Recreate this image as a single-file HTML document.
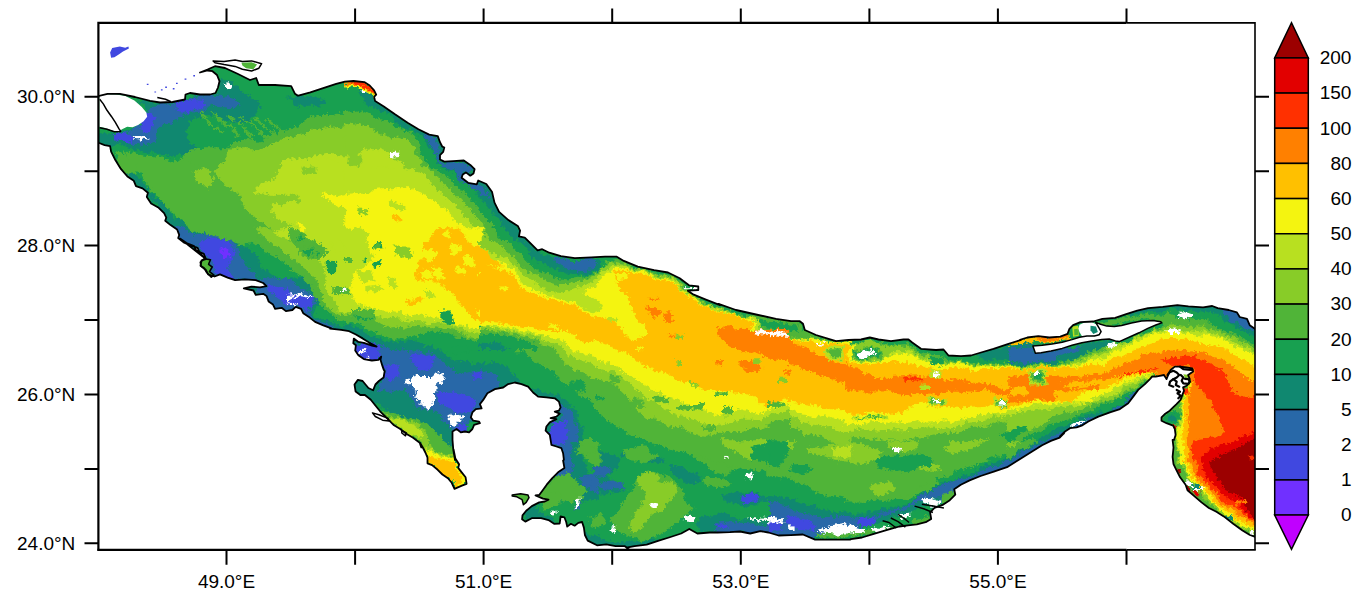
<!DOCTYPE html>
<html><head><meta charset="utf-8"><title>Persian Gulf bathymetry</title>
<style>html,body{margin:0;padding:0;background:#fff}svg{display:block}text{font-family:"Liberation Sans",sans-serif;fill:#000}</style></head><body>
<svg width="1370" height="601" viewBox="0 0 1370 601">
<rect width="1370" height="601" fill="#fff"/>
<defs><clipPath id="fr"><rect x="98.4" y="22.9" width="1156.6" height="526.9"/></clipPath></defs>
<g clip-path="url(#fr)" shape-rendering="geometricPrecision">
<path d="M98.0 96.2 L107.5 93.8 L120.0 93.8 L135.0 97.0 L150.0 100.8 L160.0 102.5 L172.5 102.0 L185.0 99.5 L185.5 94.5 L190.0 93.0 L200.0 94.5 L210.0 94.5 L215.5 93.0 L218.0 87.5 L219.5 81.2 L217.0 75.0 L212.5 71.2 L207.5 70.5 L200.0 72.5 L207.5 69.5 L215.0 66.2 L225.0 68.0 L237.5 73.8 L250.0 80.0 L256.2 78.0 L258.8 85.0 L275.0 85.0 L291.2 86.2 L295.0 93.8 L297.5 95.5 L298.4 95.7 L310.3 92.4 L323.2 88.1 L336.2 83.8 L344.9 81.6 L353.5 81.0 L364.3 82.1 L369.7 85.5 L374.1 90.3 L376.2 94.6 L374.1 96.8 L375.1 101.1 L383.8 106.5 L394.6 114.1 L407.6 122.7 L418.4 129.2 L429.2 134.6 L437.8 136.1 L440.0 142.2 L442.2 146.5 L444.3 147.6 L443.2 151.9 L440.0 155.1 L440.0 159.5 L444.3 161.6 L453.0 161.2 L463.8 160.5 L470.3 164.9 L474.6 169.2 L473.5 173.5 L470.3 175.7 L465.9 172.4 L462.7 174.6 L461.6 177.8 L468.1 182.8 L476.8 184.3 L478.2 180.5 L486.3 184.0 L492.1 192.1 L494.5 202.6 L499.1 211.9 L508.4 220.1 L517.8 225.9 L520.1 230.6 L518.9 236.4 L524.8 237.6 L530.6 243.4 L537.6 250.4 L542.2 249.2 L549.2 252.7 L560.9 256.2 L574.8 258.1 L591.2 257.4 L605.1 256.7 L616.8 256.7 L623.8 260.9 L637.8 266.7 L654.1 270.2 L668.0 272.5 L679.7 278.3 L689.0 285.3 L698.3 286.5 L698.3 290.0 L687.8 290.7 L693.7 294.7 L705.3 299.3 L720.0 305.1 L718.5 303.8 L736.0 310.0 L756.0 314.5 L776.0 318.8 L791.0 321.2 L799.8 321.2 L803.0 323.8 L804.8 330.0 L816.0 335.0 L828.5 338.8 L836.0 341.2 L848.5 340.0 L861.0 339.5 L869.8 337.5 L878.5 339.5 L891.0 341.2 L903.5 339.5 L908.5 339.5 L912.2 342.5 L921.0 348.8 L936.0 350.0 L943.5 349.5 L948.5 355.5 L961.0 356.2 L971.0 355.5 L981.0 352.5 L993.5 348.8 L1008.5 343.8 L1021.0 340.0 L1020.0 339.9 L1027.3 337.5 L1038.3 336.2 L1049.3 337.5 L1060.3 336.7 L1067.6 333.8 L1069.4 328.9 L1073.1 325.2 L1080.4 322.1 L1093.2 321.5 L1102.4 318.8 L1115.2 317.9 L1126.2 314.2 L1137.2 310.6 L1148.1 308.2 L1162.8 306.9 L1177.4 305.1 L1188.4 306.4 L1203.1 307.4 L1212.2 306.0 L1217.7 308.2 L1228.7 310.0 L1236.9 312.4 L1239.7 317.0 L1247.0 318.8 L1249.7 325.2 L1256.2 329.8 L1262.0 330.0 L1262.0 537.0 L1256.5 537.3 L1249.9 535.0 L1242.5 530.4 L1233.2 523.8 L1223.8 516.4 L1216.4 511.7 L1208.9 508.0 L1201.5 502.4 L1194.0 495.9 L1187.5 490.3 L1185.6 484.7 L1180.1 477.3 L1176.3 469.8 L1173.5 464.2 L1172.6 456.8 L1173.5 447.5 L1172.6 440.0 L1174.0 439.9 L1175.6 434.9 L1174.8 429.0 L1173.1 425.7 L1166.5 423.2 L1161.5 420.7 L1161.5 417.4 L1164.8 414.1 L1169.8 410.7 L1173.1 407.4 L1176.5 404.1 L1180.6 399.9 L1182.3 394.9 L1184.0 390.8 L1183.1 387.4 L1186.5 385.8 L1189.0 383.3 L1189.8 379.1 L1188.1 375.0 L1193.1 371.6 L1192.3 368.3 L1186.5 367.5 L1179.8 366.6 L1174.8 366.6 L1170.6 370.0 L1168.2 375.0 L1166.5 379.1 L1164.0 375.0 L1159.8 375.8 L1155.7 376.6 L1152.3 376.3 L1149.9 379.1 L1144.9 384.1 L1138.2 389.9 L1133.2 396.6 L1128.2 403.2 L1119.9 409.1 L1109.9 412.4 L1098.3 416.6 L1088.3 421.5 L1081.6 425.7 L1076.6 427.4 L1070.0 428.2 L1065.0 431.5 L1060.0 436.5 L1064.1 433.2 L1059.7 437.6 L1050.9 440.9 L1042.1 445.3 L1033.3 450.8 L1024.5 456.2 L1015.7 461.7 L1007.0 467.2 L993.8 471.6 L980.6 476.0 L969.6 480.4 L960.8 484.8 L954.2 489.2 L955.3 494.7 L949.8 500.2 L943.3 504.6 L934.5 507.9 L930.1 512.3 L931.2 518.9 L925.7 522.2 L916.9 524.3 L908.1 525.4 L899.3 526.5 L891.6 528.7 L883.9 530.9 L873.0 534.2 L862.0 537.5 L851.0 539.1 L850.0 539.6 L833.4 539.6 L815.1 539.6 L802.9 534.5 L790.7 535.1 L778.6 535.5 L768.4 532.5 L760.3 531.1 L750.2 533.5 L740.0 531.5 L729.9 532.1 L717.7 532.5 L709.6 532.5 L697.4 533.5 L689.3 529.0 L681.2 533.5 L669.0 537.5 L658.8 540.6 L646.7 544.7 L634.5 546.1 L626.4 547.7 L628.6 549.0 L624.9 546.2 L615.6 546.2 L606.3 544.3 L597.0 545.3 L587.7 540.6 L584.9 535.0 L583.9 527.6 L582.1 522.0 L578.3 522.9 L574.6 525.7 L570.9 523.8 L567.2 526.6 L566.2 522.0 L564.4 517.3 L560.6 516.4 L559.7 523.5 L554.1 523.8 L548.5 520.1 L541.1 518.2 L531.8 518.2 L525.3 521.6 L522.1 519.2 L522.5 515.4 L526.2 510.8 L531.8 506.1 L539.2 502.4 L544.8 501.5 L548.5 499.6 L543.0 498.7 L535.5 495.5 L539.2 495.0 L542.0 491.2 L546.7 484.7 L552.3 478.2 L558.8 471.7 L564.4 467.9 L563.1 460.5 L563.9 459.8 L563.1 453.2 L561.4 448.2 L556.4 446.5 L551.4 444.8 L550.6 439.9 L549.8 434.9 L545.6 430.7 L546.4 426.5 L549.8 422.4 L556.4 419.1 L550.6 418.2 L556.4 416.6 L559.8 413.6 L554.8 411.6 L558.9 410.7 L560.6 407.4 L558.9 401.6 L554.8 398.3 L546.4 397.4 L538.1 396.6 L533.1 392.5 L528.1 386.6 L521.5 384.1 L514.8 382.5 L508.2 384.1 L503.2 387.5 L494.9 389.1 L487.4 393.3 L483.2 399.9 L479.9 404.1 L481.6 408.3 L475.8 409.1 L472.4 412.4 L470.8 417.4 L473.3 420.7 L479.1 421.6 L479.9 423.2 L474.1 424.9 L472.4 429.0 L469.1 432.4 L464.9 431.5 L460.8 432.4 L456.6 429.0 L452.5 431.5 L452.5 439.9 L453.3 449.8 L455.0 459.8 L453.5 449.3 L455.4 458.6 L459.1 464.2 L458.2 467.9 L461.9 472.6 L465.6 477.3 L466.6 483.8 L461.9 485.6 L454.5 488.8 L451.7 482.8 L447.9 478.2 L442.4 474.5 L437.7 469.8 L432.1 465.1 L427.5 463.3 L427.5 457.7 L425.6 453.0 L422.8 447.5 L420.0 442.8 L421.3 447.4 L419.7 442.7 L412.7 437.6 L405.7 433.4 L399.9 428.8 L394.0 425.3 L389.4 420.6 L385.9 417.1 L380.1 411.3 L375.4 405.5 L370.8 399.7 L364.9 395.0 L360.3 395.0 L355.6 391.5 L354.5 384.5 L357.9 379.9 L362.6 381.0 L368.4 388.0 L373.1 390.3 L375.4 384.5 L378.9 381.0 L383.6 377.5 L384.7 371.0 L383.8 369.9 L382.4 365.9 L380.5 359.8 L381.2 356.6 L378.4 359.8 L371.9 360.5 L363.8 359.1 L358.4 355.2 L355.2 350.5 L355.9 345.2 L353.3 343.3 L353.8 338.6 L358.4 341.9 L363.8 342.8 L371.9 345.6 L376.6 346.6 L369.1 342.6 L362.6 338.4 L355.9 334.5 L349.1 331.2 L341.2 329.8 L330.0 328.6 L331.4 328.4 L322.7 325.1 L315.1 321.9 L309.7 317.6 L303.2 313.2 L301.1 308.9 L295.7 306.8 L292.4 310.0 L285.9 311.1 L281.6 307.8 L275.1 308.9 L273.0 304.6 L268.6 301.4 L266.5 295.9 L263.2 293.8 L255.7 294.9 L253.5 290.5 L243.8 288.4 L251.4 286.6 L260.0 287.3 L266.5 286.2 L263.2 283.0 L255.7 280.2 L244.9 279.3 L235.1 280.2 L227.6 277.6 L220.0 274.3 L214.6 276.5 L208.1 274.3 L205.9 270.0 L200.5 265.7 L201.6 260.3 L205.9 259.2 L203.8 253.8 L196.2 250.5 L194.1 246.2 L186.5 243.0 L180.0 238.6 L204.1 257.6 L199.8 253.2 L197.6 247.8 L191.1 245.7 L183.6 242.4 L178.2 238.1 L179.2 234.9 L177.1 229.5 L170.6 225.1 L165.2 220.8 L166.3 217.6 L164.1 213.2 L158.7 207.8 L151.1 203.5 L146.8 197.0 L147.9 192.7 L142.5 188.4 L136.0 186.2 L133.8 180.8 L127.4 176.5 L120.9 168.9 L115.5 160.3 L111.1 151.6 L110.1 146.2 L104.6 145.1 L99.2 143.0 L96.0 140.8 L90.0 140.0 L90.0 96.0Z" fill="#18a050"/>
<clipPath id="sea"><path d="M98.0 96.2 L107.5 93.8 L120.0 93.8 L135.0 97.0 L150.0 100.8 L160.0 102.5 L172.5 102.0 L185.0 99.5 L185.5 94.5 L190.0 93.0 L200.0 94.5 L210.0 94.5 L215.5 93.0 L218.0 87.5 L219.5 81.2 L217.0 75.0 L212.5 71.2 L207.5 70.5 L200.0 72.5 L207.5 69.5 L215.0 66.2 L225.0 68.0 L237.5 73.8 L250.0 80.0 L256.2 78.0 L258.8 85.0 L275.0 85.0 L291.2 86.2 L295.0 93.8 L297.5 95.5 L298.4 95.7 L310.3 92.4 L323.2 88.1 L336.2 83.8 L344.9 81.6 L353.5 81.0 L364.3 82.1 L369.7 85.5 L374.1 90.3 L376.2 94.6 L374.1 96.8 L375.1 101.1 L383.8 106.5 L394.6 114.1 L407.6 122.7 L418.4 129.2 L429.2 134.6 L437.8 136.1 L440.0 142.2 L442.2 146.5 L444.3 147.6 L443.2 151.9 L440.0 155.1 L440.0 159.5 L444.3 161.6 L453.0 161.2 L463.8 160.5 L470.3 164.9 L474.6 169.2 L473.5 173.5 L470.3 175.7 L465.9 172.4 L462.7 174.6 L461.6 177.8 L468.1 182.8 L476.8 184.3 L478.2 180.5 L486.3 184.0 L492.1 192.1 L494.5 202.6 L499.1 211.9 L508.4 220.1 L517.8 225.9 L520.1 230.6 L518.9 236.4 L524.8 237.6 L530.6 243.4 L537.6 250.4 L542.2 249.2 L549.2 252.7 L560.9 256.2 L574.8 258.1 L591.2 257.4 L605.1 256.7 L616.8 256.7 L623.8 260.9 L637.8 266.7 L654.1 270.2 L668.0 272.5 L679.7 278.3 L689.0 285.3 L698.3 286.5 L698.3 290.0 L687.8 290.7 L693.7 294.7 L705.3 299.3 L720.0 305.1 L718.5 303.8 L736.0 310.0 L756.0 314.5 L776.0 318.8 L791.0 321.2 L799.8 321.2 L803.0 323.8 L804.8 330.0 L816.0 335.0 L828.5 338.8 L836.0 341.2 L848.5 340.0 L861.0 339.5 L869.8 337.5 L878.5 339.5 L891.0 341.2 L903.5 339.5 L908.5 339.5 L912.2 342.5 L921.0 348.8 L936.0 350.0 L943.5 349.5 L948.5 355.5 L961.0 356.2 L971.0 355.5 L981.0 352.5 L993.5 348.8 L1008.5 343.8 L1021.0 340.0 L1020.0 339.9 L1027.3 337.5 L1038.3 336.2 L1049.3 337.5 L1060.3 336.7 L1067.6 333.8 L1069.4 328.9 L1073.1 325.2 L1080.4 322.1 L1093.2 321.5 L1102.4 318.8 L1115.2 317.9 L1126.2 314.2 L1137.2 310.6 L1148.1 308.2 L1162.8 306.9 L1177.4 305.1 L1188.4 306.4 L1203.1 307.4 L1212.2 306.0 L1217.7 308.2 L1228.7 310.0 L1236.9 312.4 L1239.7 317.0 L1247.0 318.8 L1249.7 325.2 L1256.2 329.8 L1262.0 330.0 L1262.0 537.0 L1256.5 537.3 L1249.9 535.0 L1242.5 530.4 L1233.2 523.8 L1223.8 516.4 L1216.4 511.7 L1208.9 508.0 L1201.5 502.4 L1194.0 495.9 L1187.5 490.3 L1185.6 484.7 L1180.1 477.3 L1176.3 469.8 L1173.5 464.2 L1172.6 456.8 L1173.5 447.5 L1172.6 440.0 L1174.0 439.9 L1175.6 434.9 L1174.8 429.0 L1173.1 425.7 L1166.5 423.2 L1161.5 420.7 L1161.5 417.4 L1164.8 414.1 L1169.8 410.7 L1173.1 407.4 L1176.5 404.1 L1180.6 399.9 L1182.3 394.9 L1184.0 390.8 L1183.1 387.4 L1186.5 385.8 L1189.0 383.3 L1189.8 379.1 L1188.1 375.0 L1193.1 371.6 L1192.3 368.3 L1186.5 367.5 L1179.8 366.6 L1174.8 366.6 L1170.6 370.0 L1168.2 375.0 L1166.5 379.1 L1164.0 375.0 L1159.8 375.8 L1155.7 376.6 L1152.3 376.3 L1149.9 379.1 L1144.9 384.1 L1138.2 389.9 L1133.2 396.6 L1128.2 403.2 L1119.9 409.1 L1109.9 412.4 L1098.3 416.6 L1088.3 421.5 L1081.6 425.7 L1076.6 427.4 L1070.0 428.2 L1065.0 431.5 L1060.0 436.5 L1064.1 433.2 L1059.7 437.6 L1050.9 440.9 L1042.1 445.3 L1033.3 450.8 L1024.5 456.2 L1015.7 461.7 L1007.0 467.2 L993.8 471.6 L980.6 476.0 L969.6 480.4 L960.8 484.8 L954.2 489.2 L955.3 494.7 L949.8 500.2 L943.3 504.6 L934.5 507.9 L930.1 512.3 L931.2 518.9 L925.7 522.2 L916.9 524.3 L908.1 525.4 L899.3 526.5 L891.6 528.7 L883.9 530.9 L873.0 534.2 L862.0 537.5 L851.0 539.1 L850.0 539.6 L833.4 539.6 L815.1 539.6 L802.9 534.5 L790.7 535.1 L778.6 535.5 L768.4 532.5 L760.3 531.1 L750.2 533.5 L740.0 531.5 L729.9 532.1 L717.7 532.5 L709.6 532.5 L697.4 533.5 L689.3 529.0 L681.2 533.5 L669.0 537.5 L658.8 540.6 L646.7 544.7 L634.5 546.1 L626.4 547.7 L628.6 549.0 L624.9 546.2 L615.6 546.2 L606.3 544.3 L597.0 545.3 L587.7 540.6 L584.9 535.0 L583.9 527.6 L582.1 522.0 L578.3 522.9 L574.6 525.7 L570.9 523.8 L567.2 526.6 L566.2 522.0 L564.4 517.3 L560.6 516.4 L559.7 523.5 L554.1 523.8 L548.5 520.1 L541.1 518.2 L531.8 518.2 L525.3 521.6 L522.1 519.2 L522.5 515.4 L526.2 510.8 L531.8 506.1 L539.2 502.4 L544.8 501.5 L548.5 499.6 L543.0 498.7 L535.5 495.5 L539.2 495.0 L542.0 491.2 L546.7 484.7 L552.3 478.2 L558.8 471.7 L564.4 467.9 L563.1 460.5 L563.9 459.8 L563.1 453.2 L561.4 448.2 L556.4 446.5 L551.4 444.8 L550.6 439.9 L549.8 434.9 L545.6 430.7 L546.4 426.5 L549.8 422.4 L556.4 419.1 L550.6 418.2 L556.4 416.6 L559.8 413.6 L554.8 411.6 L558.9 410.7 L560.6 407.4 L558.9 401.6 L554.8 398.3 L546.4 397.4 L538.1 396.6 L533.1 392.5 L528.1 386.6 L521.5 384.1 L514.8 382.5 L508.2 384.1 L503.2 387.5 L494.9 389.1 L487.4 393.3 L483.2 399.9 L479.9 404.1 L481.6 408.3 L475.8 409.1 L472.4 412.4 L470.8 417.4 L473.3 420.7 L479.1 421.6 L479.9 423.2 L474.1 424.9 L472.4 429.0 L469.1 432.4 L464.9 431.5 L460.8 432.4 L456.6 429.0 L452.5 431.5 L452.5 439.9 L453.3 449.8 L455.0 459.8 L453.5 449.3 L455.4 458.6 L459.1 464.2 L458.2 467.9 L461.9 472.6 L465.6 477.3 L466.6 483.8 L461.9 485.6 L454.5 488.8 L451.7 482.8 L447.9 478.2 L442.4 474.5 L437.7 469.8 L432.1 465.1 L427.5 463.3 L427.5 457.7 L425.6 453.0 L422.8 447.5 L420.0 442.8 L421.3 447.4 L419.7 442.7 L412.7 437.6 L405.7 433.4 L399.9 428.8 L394.0 425.3 L389.4 420.6 L385.9 417.1 L380.1 411.3 L375.4 405.5 L370.8 399.7 L364.9 395.0 L360.3 395.0 L355.6 391.5 L354.5 384.5 L357.9 379.9 L362.6 381.0 L368.4 388.0 L373.1 390.3 L375.4 384.5 L378.9 381.0 L383.6 377.5 L384.7 371.0 L383.8 369.9 L382.4 365.9 L380.5 359.8 L381.2 356.6 L378.4 359.8 L371.9 360.5 L363.8 359.1 L358.4 355.2 L355.2 350.5 L355.9 345.2 L353.3 343.3 L353.8 338.6 L358.4 341.9 L363.8 342.8 L371.9 345.6 L376.6 346.6 L369.1 342.6 L362.6 338.4 L355.9 334.5 L349.1 331.2 L341.2 329.8 L330.0 328.6 L331.4 328.4 L322.7 325.1 L315.1 321.9 L309.7 317.6 L303.2 313.2 L301.1 308.9 L295.7 306.8 L292.4 310.0 L285.9 311.1 L281.6 307.8 L275.1 308.9 L273.0 304.6 L268.6 301.4 L266.5 295.9 L263.2 293.8 L255.7 294.9 L253.5 290.5 L243.8 288.4 L251.4 286.6 L260.0 287.3 L266.5 286.2 L263.2 283.0 L255.7 280.2 L244.9 279.3 L235.1 280.2 L227.6 277.6 L220.0 274.3 L214.6 276.5 L208.1 274.3 L205.9 270.0 L200.5 265.7 L201.6 260.3 L205.9 259.2 L203.8 253.8 L196.2 250.5 L194.1 246.2 L186.5 243.0 L180.0 238.6 L204.1 257.6 L199.8 253.2 L197.6 247.8 L191.1 245.7 L183.6 242.4 L178.2 238.1 L179.2 234.9 L177.1 229.5 L170.6 225.1 L165.2 220.8 L166.3 217.6 L164.1 213.2 L158.7 207.8 L151.1 203.5 L146.8 197.0 L147.9 192.7 L142.5 188.4 L136.0 186.2 L133.8 180.8 L127.4 176.5 L120.9 168.9 L115.5 160.3 L111.1 151.6 L110.1 146.2 L104.6 145.1 L99.2 143.0 L96.0 140.8 L90.0 140.0 L90.0 96.0Z"/></clipPath>
<filter id="rough" x="0" y="0" width="1370" height="601" filterUnits="userSpaceOnUse" color-interpolation-filters="sRGB"><feTurbulence type="fractalNoise" baseFrequency="0.06" numOctaves="2" seed="7" result="n1"/><feDisplacementMap in="SourceGraphic" in2="n1" scale="9" xChannelSelector="R" yChannelSelector="G" result="d1"/><feTurbulence type="fractalNoise" baseFrequency="0.3" numOctaves="2" seed="3" result="n2"/><feDisplacementMap in="d1" in2="n2" scale="7" xChannelSelector="G" yChannelSelector="R"/></filter>
<g clip-path="url(#sea)"><g filter="url(#rough)">
<g fill="#108870"><path d="M99.7 132.3 L121.6 130.5 L138.1 125.9 L148.2 114.9 L145.4 105.8 L136.3 99.3 L156.4 103.0 L172.9 103.0 L183.8 99.3 L198.5 95.7 L216.8 94.8 L220.5 82.0 L224.1 78.3 L235.1 83.8 L240.6 91.1 L253.4 96.6 L260.7 105.8 L257.1 114.9 L246.1 120.4 L235.1 124.1 L224.1 120.4 L213.1 114.9 L204.0 114.9 L194.8 120.4 L187.5 129.5 L191.2 140.5 L198.5 147.8 L194.8 155.2 L180.2 157.0 L165.5 156.1 L150.9 153.3 L136.3 149.7 L123.5 146.0 L110.6 144.2 L99.7 143.3Z"/><path d="M286.3 96.6 L301.0 95.7 L315.6 97.5 L324.8 101.2 L321.1 105.8 L306.5 105.8 L293.7 103.9Z"/><path d="M357.0 89.3 L366.1 92.9 L373.5 101.2 L393.6 114.0 L415.5 126.3 L430.2 133.2 L439.3 140.5 L441.2 146.0 L440.3 154.3 L439.3 159.7 L444.8 161.6 L455.8 161.0 L465.0 161.6 L474.1 166.1 L474.1 171.6 L448.5 171.6 L437.5 162.5 L432.0 151.5 L426.5 138.7 L413.7 131.4 L391.8 118.6 L371.6 105.8 L358.8 94.8Z"/><path d="M114.3 168.2 L127.1 168.2 L138.1 179.2 L149.1 188.3 L154.6 197.5 L165.5 206.6 L172.9 215.8 L182.0 223.1 L191.2 228.6 L205.8 232.2 L224.1 234.1 L238.8 239.5 L247.9 246.9 L255.2 256.0 L260.7 265.2 L271.7 272.5 L279.0 281.6 L205.8 281.6 L187.5 252.4 L169.2 224.9 L141.8 188.3Z"/><path d="M444.8 168.2 L448.5 170.0 L474.1 188.3 L486.9 206.6 L503.4 224.9 L516.2 243.2 L529.0 256.0 L547.3 265.2 L565.6 268.8 L583.9 270.7 L598.6 272.5 L598.6 254.2 L529.0 239.5 L492.4 188.3 L463.1 168.2Z"/><path d="M234.9 278.2 L326.4 278.2 L330.1 287.3 L322.8 296.5 L315.4 307.5 L313.6 316.6 L326.4 322.1 L341.1 326.7 L355.7 330.3 L368.5 336.7 L379.5 344.1 L388.6 349.5 L399.6 347.7 L414.3 345.9 L432.6 344.1 L432.6 391.6 L363.0 391.6 L344.7 334.9 L289.8 316.6 L253.2 298.3Z"/><path d="M344.2 323.9 L364.3 333.1 L382.6 340.4 L400.9 344.1 L419.2 342.2 L437.5 349.5 L448.5 356.9 L463.1 362.4 L477.8 364.2 L492.4 360.5 L503.4 366.0 L510.7 375.2 L521.7 382.5 L529.0 391.6 L344.2 391.6Z"/><path d="M977.8 354.1 L992.4 348.6 L1007.1 345.9 L1018.0 341.3 L1029.0 337.1 L1032.7 346.8 L1034.5 353.2 L1054.6 351.0 L1083.9 345.9 L1098.6 343.1 L1098.6 356.9 L1083.9 358.7 L1065.6 361.4 L1047.3 362.4 L1029.0 362.4 L1010.7 361.4 L992.4 360.5 L981.4 358.7Z"/><path d="M1008.2 344.0 L1021.0 343.1 L1030.1 344.9 L1033.8 352.2 L1046.6 351.9 L1064.9 347.7 L1086.9 342.2 L1108.8 339.8 L1116.1 342.2 L1112.5 344.9 L1097.8 348.6 L1083.2 353.1 L1064.9 360.5 L1046.6 365.0 L1028.3 365.4 L1008.2 366.9Z"/><path d="M1211.3 304.6 L1229.6 308.3 L1240.6 315.6 L1250.7 323.9 L1256.2 329.3 L1256.2 338.5 L1247.9 333.0 L1236.9 326.6 L1226.0 319.3 L1211.3 312.9 L1193.0 310.1 L1174.7 309.2 L1156.4 310.5 L1138.1 312.9 L1127.1 316.5 L1127.1 312.0 L1138.1 308.3 L1156.4 306.1 L1174.7 303.7Z"/><path d="M344.2 388.2 L496.1 388.2 L485.1 401.0 L481.4 410.1 L474.1 421.1 L455.8 430.3 L453.1 444.9 L454.0 454.1 L448.5 450.4 L441.2 441.2 L430.2 430.3 L415.5 422.9 L400.9 417.5 L382.6 408.3 L368.0 397.3Z"/><path d="M530.8 388.2 L565.6 388.2 L576.6 401.0 L580.3 417.5 L578.4 435.8 L582.1 454.1 L587.6 468.7 L591.2 485.2 L598.6 492.5 L598.6 501.6 L529.0 501.6 L547.3 472.4 L547.3 426.6Z"/><path d="M594.2 450.4 L607.0 450.4 L614.3 457.7 L612.5 468.7 L607.0 476.0 L614.3 485.2 L623.5 488.8 L621.6 494.3 L607.0 492.5 L594.2 492.5Z"/><path d="M621.6 452.2 L636.3 450.4 L650.9 453.1 L663.7 457.7 L665.5 462.3 L650.9 461.4 L636.3 457.7 L623.5 455.9Z"/><path d="M669.2 466.9 L683.8 466.9 L698.5 472.4 L702.1 479.7 L694.8 483.3 L683.8 481.5 L672.9 474.2Z"/><path d="M815.6 481.5 L826.6 477.8 L841.2 477.8 L848.6 481.5 L848.6 488.8 L833.9 490.7 L819.3 488.8Z"/><path d="M724.1 496.1 L738.8 492.5 L760.7 494.3 L779.0 496.1 L790.0 501.6 L724.1 501.6Z"/><path d="M1098.6 412.0 L1083.9 417.5 L1065.6 424.8 L1047.3 433.9 L1029.0 444.0 L1010.7 455.0 L992.4 463.2 L974.1 469.6 L959.5 475.1 L948.5 482.4 L937.5 489.7 L926.5 501.6 L974.1 501.6 L1098.6 426.6Z"/><path d="M1008.2 460.5 L1010.0 459.5 L1064.9 427.5 L1119.8 405.6 L1134.5 391.8 L1141.8 388.2 L1141.8 408.3 L1008.2 481.5Z"/><path d="M550.2 440.2 L573.1 440.2 L571.2 456.6 L573.1 471.3 L565.8 478.6 L556.6 485.9 L545.6 496.9 L531.0 509.7 L521.8 517.0 L520.0 496.9 L556.6 469.5Z"/><path d="M587.7 453.0 L600.5 451.2 L615.2 453.0 L622.5 460.3 L618.8 467.6 L607.8 469.5 L596.9 465.8 L589.5 460.3Z"/><path d="M670.1 469.5 L684.7 467.6 L695.7 473.1 L695.7 478.6 L681.1 480.4 L671.9 476.8Z"/><path d="M736.0 493.2 L750.6 491.4 L761.6 496.9 L757.9 504.2 L743.3 505.1 L736.0 500.6Z"/><path d="M703.0 515.2 L721.3 513.4 L739.6 518.9 L757.9 520.7 L772.6 522.5 L772.6 533.5 L703.0 533.5 L695.7 524.4Z"/><path d="M584.1 529.8 L596.9 537.2 L615.2 541.7 L633.5 542.7 L651.8 539.0 L659.1 541.7 L648.1 546.3 L627.1 550.0 L605.1 545.4 L586.8 541.7Z"/><path d="M523.7 511.5 L534.6 506.1 L547.5 515.2 L556.6 522.5 L542.0 520.7 L527.3 522.5Z"/><path d="M768.2 495.1 L784.6 496.9 L799.3 502.4 L817.6 507.9 L835.9 511.5 L854.2 513.4 L872.5 513.4 L890.8 507.9 L909.1 500.6 L927.4 491.4 L945.7 482.3 L964.0 474.9 L982.3 468.5 L1000.6 462.1 L1022.6 453.0 L1022.6 478.6 L768.2 555.5Z"/><path d="M817.6 478.6 L832.2 476.8 L848.7 479.5 L850.5 485.9 L835.9 489.6 L821.2 487.8Z"/><path d="M768.2 445.7 L781.0 447.5 L788.3 456.6 L781.0 464.0 L768.2 465.8Z"/><path d="M1008.2 460.3 L1021.0 453.0 L1032.0 446.6 L1041.1 442.0 L1048.4 440.2 L1052.1 445.7 L1008.2 471.3Z"/></g>
<g fill="#2868a8"><path d="M123.5 132.3 L138.1 126.8 L149.1 114.9 L150.9 107.6 L161.9 104.8 L174.7 103.9 L187.5 98.4 L205.8 96.6 L222.3 95.7 L235.1 99.3 L238.8 103.9 L227.8 107.6 L213.1 106.7 L202.1 111.2 L187.5 114.9 L174.7 118.6 L165.5 125.9 L158.2 133.2 L156.4 142.4 L147.2 146.0 L132.6 145.1 L121.6 140.5 L114.3 135.0Z"/><path d="M424.7 133.2 L433.8 136.9 L437.5 146.0 L437.5 158.8 L444.8 162.5 L463.1 162.5 L472.3 168.0 L472.3 171.6 L455.8 171.6 L443.0 166.1 L435.7 158.8 L432.0 146.0Z"/><path d="M174.7 228.6 L183.8 228.6 L194.8 234.1 L209.5 235.9 L224.1 237.7 L235.1 243.2 L240.6 250.5 L242.4 259.7 L247.9 268.8 L257.1 276.1 L260.7 281.6 L213.1 281.6 L205.8 261.5 L198.5 248.7 L183.8 241.4 L176.5 235.9Z"/><path d="M454.0 168.2 L463.1 168.2 L465.0 179.2 L477.8 184.6 L486.9 188.3 L490.6 197.5 L483.3 193.8 L470.5 186.5 L459.5 179.2Z"/><path d="M536.3 254.2 L547.3 256.0 L565.6 259.7 L583.9 259.7 L598.6 258.8 L598.6 268.8 L583.9 267.9 L565.6 266.1 L547.3 262.4 L538.2 257.8Z"/><path d="M260.5 278.2 L289.8 278.2 L297.1 285.5 L308.1 291.0 L317.3 296.5 L315.4 303.8 L308.1 311.1 L311.8 318.4 L322.8 323.9 L335.6 328.0 L335.6 333.1 L322.8 328.5 L308.1 321.2 L299.0 312.9 L289.8 312.9 L278.8 311.1 L267.8 303.8 L264.2 294.6 L256.9 292.8 L256.9 285.5Z"/><path d="M379.5 360.5 L386.8 353.2 L396.0 349.5 L406.9 351.4 L417.9 349.5 L432.6 353.2 L432.6 391.6 L377.7 391.6 L383.1 378.8 L384.1 371.5Z"/><path d="M378.9 345.9 L393.6 349.5 L408.2 351.4 L426.5 353.2 L441.2 360.5 L448.5 367.8 L455.8 375.2 L470.5 371.5 L485.1 369.7 L496.1 375.2 L499.7 384.3 L492.4 391.6 L378.9 391.6 L382.6 371.5 L378.9 356.9Z"/><path d="M1010.7 348.6 L1021.7 345.9 L1030.8 346.8 L1036.3 353.6 L1047.3 353.2 L1029.0 356.9 L1016.2 354.1Z"/><path d="M1008.2 348.6 L1021.0 346.7 L1032.0 348.6 L1034.7 353.1 L1046.6 352.2 L1064.9 348.2 L1079.5 344.9 L1079.5 348.6 L1064.9 354.1 L1046.6 361.4 L1028.3 362.3 L1008.2 363.2Z"/><path d="M1220.5 307.4 L1236.9 311.6 L1247.9 317.5 L1255.2 328.4 L1256.2 333.9 L1246.1 328.4 L1235.1 321.1 L1222.3 313.8Z"/><path d="M400.9 388.2 L494.2 388.2 L483.3 401.0 L479.6 410.1 L472.3 421.1 L455.8 429.3 L452.1 435.8 L448.5 426.6 L441.2 417.5 L433.8 410.1 L419.2 406.5 L408.2 397.3Z"/><path d="M547.3 395.5 L562.0 399.2 L571.1 412.0 L571.1 426.6 L569.3 441.2 L572.9 455.9 L574.8 468.7 L569.3 476.0 L554.6 477.8 L547.3 444.9 L547.3 408.3Z"/><path d="M580.3 476.0 L591.2 474.2 L598.6 477.8 L598.6 492.5 L589.4 490.7 L582.1 485.2Z"/><path d="M594.2 466.9 L605.2 466.9 L608.8 472.4 L603.3 476.9 L594.2 476.0Z"/><path d="M599.7 482.4 L614.3 481.5 L623.5 485.2 L623.5 490.7 L610.6 489.7 L599.7 487.0Z"/><path d="M1098.6 416.5 L1083.9 421.5 L1067.4 428.8 L1051.0 437.2 L1036.3 444.5 L1018.0 456.3 L1003.4 462.8 L988.8 468.3 L974.1 473.8 L963.1 478.4 L954.0 484.8 L944.8 492.1 L935.7 501.6 L974.1 501.6 L1098.6 426.6Z"/><path d="M1008.2 462.8 L1028.3 452.2 L1064.9 429.9 L1119.8 407.4 L1136.3 390.0 L1141.8 408.3 L1008.2 481.5Z"/><path d="M597.8 467.6 L607.8 466.7 L609.7 474.0 L600.5 475.9Z"/><path d="M581.3 476.8 L589.5 475.9 L591.4 484.1 L583.1 485.0Z"/><path d="M607.8 482.3 L622.5 481.3 L624.3 488.7 L611.5 490.5Z"/><path d="M739.6 495.1 L756.1 494.2 L757.9 501.5 L743.3 502.4Z"/><path d="M714.0 523.4 L730.5 522.5 L748.8 525.3 L772.6 526.2 L772.6 533.5 L714.0 533.5Z"/><path d="M562.1 445.7 L567.6 453.0 L566.7 464.0 L568.5 471.3 L563.9 473.1 L563.0 462.1 L563.9 453.0Z"/><path d="M574.9 496.9 L580.4 496.9 L581.3 509.7 L575.8 509.7Z"/><path d="M768.2 502.4 L784.6 506.1 L802.9 513.4 L824.9 517.0 L846.9 517.0 L868.8 518.0 L887.1 512.5 L905.4 504.2 L923.7 495.1 L942.0 485.9 L960.3 477.7 L978.6 471.3 L989.6 469.5 L989.6 478.6 L768.2 555.5Z"/></g>
<g fill="#4048e0"><path d="M176.5 101.2 L191.2 98.4 L204.0 100.3 L202.1 107.6 L191.2 111.2 L178.4 110.3Z"/><path d="M144.0 114.9 L150.9 113.1 L154.6 118.6 L150.9 129.5 L143.6 133.2 L139.9 127.7Z"/><path d="M116.1 134.1 L130.8 133.2 L132.6 140.5 L125.3 143.3 L116.1 140.5Z"/><path d="M198.5 243.2 L209.5 239.5 L222.3 240.5 L231.4 245.0 L235.1 252.4 L233.3 259.7 L227.8 265.2 L231.4 272.5 L235.1 281.6 L220.5 281.6 L216.8 272.5 L213.1 263.3 L207.6 254.2 L200.3 248.7Z"/><path d="M267.8 285.5 L278.8 287.3 L289.8 292.8 L304.5 298.3 L315.4 298.3 L311.8 305.6 L304.5 311.1 L297.1 305.6 L288.0 303.8 L278.8 298.3 L269.7 292.8Z"/><path d="M412.4 353.2 L425.2 352.3 L432.6 356.9 L432.6 367.8 L423.4 369.7 L414.3 366.0 L410.6 358.7Z"/><path d="M353.9 342.2 L370.3 344.1 L379.5 346.8 L381.3 356.9 L371.3 361.4 L363.0 359.6 L357.5 353.2Z"/><path d="M413.7 355.0 L424.7 353.2 L432.0 358.7 L430.2 366.0 L421.0 369.7 L413.7 364.2Z"/><path d="M385.3 366.0 L397.2 364.2 L400.9 375.2 L391.8 382.5 L385.3 377.0Z"/><path d="M472.3 371.5 L481.4 371.5 L483.3 378.8 L474.1 380.7Z"/><path d="M357.0 344.1 L373.5 344.1 L378.9 353.2 L377.1 360.5 L364.3 360.5 L357.0 353.2Z"/><path d="M437.5 393.7 L448.5 391.8 L463.1 393.7 L474.1 401.0 L472.3 410.1 L463.1 412.0 L452.1 410.1 L441.2 404.6Z"/><path d="M454.0 426.6 L463.1 422.9 L466.8 428.4 L461.3 433.9 L455.8 433.0Z"/><path d="M554.6 422.9 L565.6 421.1 L567.4 433.9 L563.8 444.9 L552.8 444.9 L547.3 432.1Z"/><path d="M742.4 494.3 L755.2 493.4 L760.7 498.0 L757.1 501.6 L742.4 501.6Z"/><path d="M743.3 496.0 L754.3 495.4 L755.2 500.2 L745.1 500.9Z"/><path d="M715.8 525.3 L728.6 525.3 L728.6 528.9 L715.8 528.9Z"/><path d="M788.3 515.2 L806.6 518.9 L817.6 526.2 L813.9 531.7 L799.3 528.0 L788.3 522.5Z"/><path d="M857.8 517.0 L872.5 518.0 L874.3 524.4 L861.5 525.3Z"/><path d="M768.2 522.5 L781.0 523.4 L782.8 529.8 L768.2 531.7Z"/></g>
<g fill="#7030ff"><path d="M218.6 250.5 L227.8 250.5 L230.5 256.0 L224.1 258.8 L218.6 256.0Z"/></g>
<g fill="#50b438"><path d="M114.3 151.5 L132.6 158.8 L150.9 162.5 L169.2 164.3 L191.2 162.5 L205.8 158.8 L224.1 147.8 L235.1 140.5 L247.9 136.9 L260.7 140.5 L271.7 133.2 L286.3 129.5 L297.3 124.1 L308.3 118.6 L321.1 114.9 L333.9 114.9 L348.6 111.2 L348.6 173.5 L119.8 173.5Z"/><path d="M198.5 112.2 L200.7 111.6 L225.9 133.2 L224.1 134.7Z"/><path d="M212.2 113.6 L214.4 113.1 L239.7 134.3 L237.8 135.8Z"/><path d="M225.9 115.1 L228.1 114.5 L253.4 135.4 L251.6 136.9Z"/><path d="M239.7 116.6 L241.9 116.0 L267.1 136.5 L265.3 138.0Z"/><path d="M253.4 118.0 L255.6 117.5 L280.8 137.6 L279.0 139.1Z"/><path d="M267.1 119.5 L269.3 118.9 L294.6 138.7 L292.7 140.2Z"/><path d="M344.2 111.2 L357.0 109.4 L368.0 113.1 L378.9 118.6 L389.9 122.2 L400.9 127.7 L411.9 133.2 L419.2 140.5 L422.9 149.7 L424.7 158.8 L428.4 171.6 L344.2 171.6Z"/><path d="M191.8 148.2 L182.6 161.0 L173.5 172.0 L173.5 186.6 L186.3 195.8 L200.9 204.9 L215.5 214.1 L228.4 223.2 L244.8 232.4 L263.1 241.5 L277.8 252.5 L285.1 261.6 L398.6 261.6 L398.6 148.2Z"/><path d="M344.2 168.2 L437.5 168.2 L437.5 170.0 L461.3 188.3 L477.8 206.6 L492.4 224.9 L503.4 243.2 L518.0 261.5 L529.0 269.7 L540.0 276.1 L547.3 281.6 L344.2 281.6Z"/><path d="M594.2 280.4 L601.5 278.6 L606.1 273.1 L608.8 265.8 L614.3 261.2 L623.5 263.9 L632.6 268.0 L643.6 271.6 L656.4 273.6 L668.3 275.5 L675.6 279.5 L682.0 286.8 L685.7 292.3 L693.0 296.5 L704.0 300.9 L715.0 305.5 L725.9 309.7 L740.6 313.3 L755.2 316.4 L769.9 319.7 L779.0 324.3 L779.0 331.6 L594.2 331.6Z"/><path d="M344.7 278.2 L341.1 287.3 L331.9 296.5 L326.4 303.8 L328.2 312.9 L337.4 318.4 L348.4 322.1 L359.4 325.8 L370.3 329.4 L381.3 334.9 L392.3 340.4 L403.3 340.4 L417.9 334.9 L432.6 329.4 L432.6 278.2Z"/><path d="M344.2 278.2 L540.0 278.2 L558.3 281.8 L576.6 285.5 L598.6 291.0 L598.6 386.1 L583.9 382.5 L569.3 375.2 L554.6 367.8 L540.0 362.4 L529.0 356.9 L521.7 349.5 L510.7 343.1 L492.4 340.4 L477.8 338.6 L463.1 336.7 L448.5 333.1 L433.8 327.6 L419.2 324.8 L400.9 325.8 L382.6 323.0 L364.3 321.2 L344.2 316.6Z"/><path d="M594.2 278.2 L682.0 278.2 L685.7 285.5 L693.0 294.6 L705.8 301.0 L724.1 309.3 L742.4 313.9 L760.7 315.7 L779.0 318.8 L797.3 322.5 L802.8 329.4 L815.6 334.9 L833.9 341.3 L848.6 341.3 L848.6 391.6 L623.5 391.6 L621.6 386.1 L614.3 378.8 L605.2 371.5 L594.2 366.0Z"/><path d="M844.2 343.1 L857.0 342.2 L869.8 340.4 L882.6 343.1 L895.4 343.5 L906.4 343.1 L911.9 346.8 L921.0 353.2 L932.0 354.1 L941.2 354.1 L948.5 359.6 L959.5 360.5 L972.3 362.4 L985.1 363.3 L1003.4 364.6 L1021.7 365.1 L1040.0 365.1 L1058.3 364.2 L1076.6 362.7 L1098.6 361.4 L1098.6 391.6 L844.2 391.6Z"/><path d="M1008.2 367.6 L1028.3 366.0 L1046.6 366.3 L1064.9 362.8 L1083.2 356.8 L1092.4 353.1 L1103.3 346.7 L1114.3 343.1 L1123.5 343.1 L1138.1 334.8 L1152.8 329.3 L1161.9 324.8 L1160.1 320.2 L1149.1 319.3 L1138.1 320.2 L1127.1 322.9 L1116.1 326.2 L1107.0 327.0 L1099.7 324.8 L1097.8 322.0 L1108.8 320.2 L1119.8 319.3 L1130.8 316.5 L1141.8 314.7 L1156.4 313.4 L1167.4 313.8 L1178.4 317.5 L1193.0 319.3 L1204.0 320.2 L1218.6 325.7 L1233.3 333.0 L1246.1 339.4 L1255.2 344.0 L1262.6 345.8 L1262.6 401.6 L1174.7 401.6 L1154.6 373.3 L1152.8 381.5 L1141.8 385.5 L1130.8 390.7 L1121.6 395.2 L1114.3 399.8 L1112.5 401.6 L1008.2 401.6Z"/><path d="M373.5 406.5 L391.8 413.8 L410.1 417.5 L424.7 422.9 L437.5 432.1 L448.5 441.2 L454.0 452.2 L455.8 463.2 L465.0 476.0 L466.8 482.4 L463.1 486.1 L455.8 488.8 L450.3 478.8 L437.5 470.5 L428.4 461.4 L424.7 450.4 L419.2 443.1 L406.4 434.8 L393.6 426.6 L382.6 417.5Z"/><path d="M571.1 388.2 L598.6 388.2 L598.6 408.3 L587.6 412.0 L580.3 404.6 L574.8 395.5Z"/><path d="M578.4 441.2 L591.2 437.6 L598.6 439.4 L598.6 466.9 L589.4 463.2 L582.1 454.1Z"/><path d="M551.0 481.5 L565.6 474.2 L576.6 481.5 L583.9 492.5 L580.3 501.6 L529.0 501.6 L543.7 488.8Z"/><path d="M594.2 412.0 L607.0 422.9 L621.6 432.1 L636.3 437.6 L650.9 443.1 L665.5 446.7 L680.2 452.2 L694.8 455.9 L705.8 463.2 L713.1 472.4 L724.1 476.0 L735.1 470.5 L746.1 463.2 L753.4 452.2 L760.7 444.9 L771.7 443.1 L786.3 444.9 L797.3 450.4 L808.3 459.5 L819.3 463.2 L833.9 466.9 L848.6 470.5 L848.6 388.2 L594.2 388.2Z"/><path d="M638.1 476.0 L650.9 472.4 L665.5 477.8 L678.4 485.2 L674.7 494.3 L661.9 499.8 L647.2 496.1 L638.1 487.0Z"/><path d="M844.2 388.2 L1098.6 388.2 L1098.6 408.3 L1091.2 411.0 L1076.6 415.6 L1062.0 421.1 L1047.3 426.6 L1032.7 432.1 L1018.0 437.6 L1003.4 443.1 L988.8 446.7 L974.1 450.4 L959.5 453.1 L948.5 452.2 L937.5 450.4 L926.5 454.1 L915.5 457.7 L900.9 459.5 L886.3 463.2 L871.6 466.9 L857.0 466.9 L844.2 463.2Z"/><path d="M844.2 476.0 L860.6 477.8 L878.9 476.0 L893.6 470.5 L908.2 468.7 L922.9 472.4 L933.8 477.8 L937.5 485.2 L926.5 492.5 L911.9 496.1 L893.6 499.8 L878.9 501.6 L844.2 501.6Z"/><path d="M1008.2 445.8 L1010.0 444.9 L1064.9 417.5 L1119.8 398.2 L1129.0 388.2 L1008.2 388.2Z"/><path d="M1175.6 388.2 L1177.5 399.2 L1176.5 406.5 L1169.2 412.9 L1165.6 419.3 L1172.9 421.1 L1174.7 429.3 L1174.2 444.9 L1175.3 463.2 L1180.2 477.8 L1188.4 490.7 L1196.7 499.8 L1198.5 501.6 L1262.6 501.6 L1262.6 388.2Z"/><path d="M637.1 478.6 L651.8 473.1 L666.4 478.6 L681.1 487.8 L684.7 500.6 L695.7 507.9 L684.7 515.2 L677.4 522.5 L666.4 529.8 L655.4 537.2 L640.8 540.8 L626.1 537.2 L615.2 529.8 L611.5 518.9 L618.8 507.9 L626.1 496.9 L633.5 487.8Z"/><path d="M684.7 440.2 L772.6 440.2 L772.6 469.5 L757.9 473.1 L739.6 467.6 L721.3 464.0 L703.0 456.6 L688.4 449.3Z"/><path d="M574.9 445.7 L589.5 443.8 L596.9 453.0 L585.9 456.6 L576.7 453.0Z"/><path d="M622.5 449.3 L644.5 447.5 L659.1 454.8 L648.1 462.1 L629.8 460.3Z"/><path d="M703.0 478.6 L721.3 476.8 L732.3 484.1 L717.7 489.6 L704.8 485.9Z"/><path d="M571.2 485.9 L582.2 484.1 L585.9 495.1 L574.9 496.9Z"/><path d="M538.3 496.9 L549.3 489.6 L560.3 493.2 L556.6 504.2 L545.6 507.9Z"/><path d="M589.5 515.2 L600.5 513.4 L606.0 520.7 L598.7 528.0 L589.5 524.4Z"/><path d="M768.2 474.9 L784.6 478.6 L799.3 484.1 L810.3 489.6 L824.9 493.2 L839.5 496.9 L854.2 500.6 L868.8 502.4 L883.5 500.6 L898.1 496.9 L912.8 491.4 L927.4 484.1 L942.0 476.8 L956.7 471.3 L971.3 465.8 L986.0 460.3 L1000.6 454.8 L1015.2 449.3 L1022.6 445.7 L1022.6 440.2 L768.2 440.2Z"/><path d="M1008.2 440.2 L1037.5 440.2 L1028.3 447.5 L1017.3 453.0 L1008.2 458.5Z"/><path d="M241.0 228.2 L252.0 241.0 L266.6 252.0 L284.9 262.9 L299.5 273.9 L310.5 284.9 L316.0 295.9 L321.5 306.9 L332.5 314.2 L347.1 319.7 L365.4 323.3 L383.7 325.2 L402.0 327.0 L420.3 329.7 L438.6 332.5 L456.9 334.3 L482.6 338.0 L482.6 228.2Z"/><path d="M122.0 150.0 L130.4 160.6 L143.8 179.8 L159.0 199.0 L174.5 216.0 L191.7 230.3 L215.0 238.0 L240.0 243.0 L262.0 242.0 L250.0 215.0 L225.0 185.0 L200.0 165.0 L170.0 160.0 L140.0 155.0Z"/></g>
<g fill="#88cc28"><path d="M224.1 171.6 L231.4 162.5 L238.8 155.2 L249.7 149.7 L264.4 146.0 L279.0 140.5 L293.7 136.9 L306.5 133.2 L319.3 129.5 L330.3 127.7 L348.6 125.9 L348.6 173.5Z"/><path d="M344.2 125.9 L357.0 124.1 L369.8 127.7 L380.8 133.2 L391.8 136.9 L402.7 138.7 L411.9 146.0 L417.4 155.2 L419.2 162.5 L422.9 171.6 L344.2 171.6Z"/><path d="M228.4 148.2 L226.5 157.3 L219.2 164.6 L215.5 172.0 L224.7 186.6 L237.5 193.9 L244.8 204.9 L250.3 214.1 L261.3 223.2 L274.1 230.5 L285.1 241.5 L292.4 252.5 L299.7 261.6 L398.6 261.6 L398.6 148.2Z"/><path d="M344.2 168.2 L428.4 168.2 L428.4 170.0 L450.3 188.3 L466.8 206.6 L481.4 224.9 L492.4 243.2 L505.2 261.5 L521.7 281.6 L344.2 281.6Z"/><path d="M352.0 278.2 L344.7 289.2 L337.4 298.3 L333.7 305.6 L341.1 311.1 L352.0 314.8 L363.0 316.6 L374.0 318.4 L381.3 323.9 L392.3 327.6 L403.3 325.8 L417.9 322.1 L432.6 318.4 L432.6 278.2Z"/><path d="M344.2 278.2 L536.3 278.2 L547.3 283.7 L562.0 287.3 L576.6 291.0 L591.2 296.5 L598.6 300.1 L598.6 367.8 L583.9 364.2 L569.3 358.7 L554.6 353.2 L540.0 347.7 L529.0 343.1 L510.7 339.5 L492.4 337.7 L474.1 335.8 L459.5 333.1 L444.8 327.6 L433.8 322.1 L419.2 319.3 L400.9 320.3 L382.6 318.4 L364.3 316.6 L344.2 313.9Z"/><path d="M594.2 278.2 L681.1 278.2 L683.8 287.3 L691.2 297.4 L704.0 302.9 L724.1 311.1 L742.4 315.1 L753.4 319.3 L751.6 332.2 L760.7 335.8 L779.0 337.1 L797.3 337.7 L812.0 337.1 L824.8 340.8 L848.6 342.2 L848.6 391.6 L639.9 391.6 L636.3 386.1 L628.9 378.8 L618.0 373.3 L607.0 366.0 L594.2 360.5Z"/><path d="M844.2 344.1 L857.0 343.1 L869.8 341.7 L882.6 344.4 L895.4 345.2 L906.4 345.9 L911.9 350.5 L921.0 355.4 L932.0 356.9 L941.2 357.8 L948.5 361.4 L959.5 362.0 L972.3 363.8 L985.1 364.6 L1003.4 365.7 L1021.7 366.2 L1040.0 366.2 L1058.3 365.3 L1076.6 363.8 L1098.6 362.5 L1098.6 391.6 L844.2 391.6Z"/><path d="M1008.2 368.3 L1028.3 366.9 L1046.6 367.2 L1064.9 364.1 L1083.2 359.5 L1094.2 355.5 L1105.2 348.9 L1116.1 343.4 L1127.1 340.3 L1138.1 335.8 L1152.8 330.6 L1163.7 326.6 L1174.7 324.8 L1189.4 326.6 L1204.0 328.1 L1218.6 331.2 L1233.3 337.6 L1246.1 343.4 L1255.2 347.7 L1262.6 349.5 L1262.6 401.6 L1174.7 401.6 L1154.6 373.3 L1152.8 379.7 L1141.8 383.3 L1129.0 388.8 L1118.0 393.4 L1109.7 398.0 L1105.2 401.6 L1008.2 401.6Z"/><path d="M386.3 415.6 L400.9 418.4 L415.5 422.0 L424.7 429.3 L428.4 435.8 L427.4 443.1 L433.8 448.6 L444.8 453.1 L454.0 457.7 L455.8 463.2 L465.0 476.0 L466.8 482.4 L463.1 486.1 L455.8 488.8 L450.3 478.8 L437.5 470.5 L428.4 461.4 L424.7 450.4 L420.1 442.2 L406.4 433.9 L395.4 425.7Z"/><path d="M594.2 388.2 L594.2 397.3 L607.0 404.6 L621.6 412.0 L632.6 419.3 L647.2 424.8 L661.9 426.6 L676.5 430.3 L691.2 435.8 L705.8 437.6 L720.5 439.4 L735.1 437.6 L749.7 435.8 L757.1 426.6 L771.7 422.9 L786.3 424.8 L797.3 430.3 L812.0 433.9 L826.6 439.4 L837.6 444.9 L848.6 448.6 L848.6 388.2Z"/><path d="M641.8 479.7 L650.9 478.8 L652.7 487.0 L643.6 487.9Z"/><path d="M844.2 388.2 L1098.6 388.2 L1098.6 399.2 L1083.9 402.8 L1069.3 406.5 L1054.6 410.1 L1040.0 413.8 L1025.4 417.5 L1010.7 421.1 L996.1 423.9 L985.1 426.6 L974.1 429.3 L963.1 430.3 L948.5 433.0 L933.8 434.8 L919.2 436.7 L904.6 439.4 L889.9 439.4 L875.3 437.6 L860.6 438.5 L844.2 437.6Z"/><path d="M844.2 443.1 L857.0 444.9 L871.6 446.7 L882.6 452.2 L878.9 459.5 L864.3 463.2 L853.3 461.4 L844.2 459.5Z"/><path d="M948.5 441.2 L963.1 439.4 L974.1 443.1 L966.8 448.6 L952.1 448.6Z"/><path d="M915.5 463.2 L930.2 461.4 L941.2 466.9 L933.8 472.4 L919.2 470.5Z"/><path d="M1008.2 436.7 L1010.0 435.8 L1037.5 424.8 L1064.9 413.8 L1092.4 404.6 L1119.8 396.4 L1127.1 388.2 L1008.2 388.2Z"/><path d="M1177.5 388.2 L1178.7 399.2 L1180.2 408.3 L1176.5 417.5 L1175.6 426.6 L1175.3 444.9 L1176.5 463.2 L1182.0 477.8 L1190.3 489.7 L1198.5 499.8 L1262.6 501.6 L1262.6 388.2Z"/><path d="M637.1 476.8 L651.8 473.1 L659.1 480.4 L670.1 484.1 L677.4 487.8 L673.7 496.9 L666.4 502.4 L659.1 511.5 L651.8 515.2 L644.5 522.5 L637.1 529.8 L629.8 531.7 L631.6 520.7 L637.1 509.7 L644.5 500.6 L648.1 491.4 L640.8 485.9Z"/><path d="M721.3 440.2 L772.6 440.2 L772.6 456.6 L757.9 460.3 L739.6 453.0 L725.0 447.5Z"/><path d="M806.6 449.3 L824.9 445.7 L843.2 443.8 L856.0 449.3 L854.2 458.5 L839.5 460.3 L824.9 456.6 L810.3 454.8Z"/><path d="M887.1 440.2 L920.1 440.2 L916.4 449.3 L901.8 451.2 L889.0 447.5Z"/><path d="M872.5 484.1 L890.8 482.3 L894.5 491.4 L879.8 495.1 L872.5 491.4Z"/><path d="M953.0 440.2 L989.6 440.2 L971.3 449.3 L953.0 453.0 L942.0 449.3Z"/><path d="M1008.2 440.2 L1021.0 440.2 L1008.2 447.5Z"/><path d="M1177.5 440.2 L1178.0 453.0 L1181.1 467.6 L1190.3 483.2 L1201.3 496.9 L1210.4 505.1 L1220.5 514.3 L1230.5 521.1 L1236.9 528.0 L1244.3 533.0 L1262.6 535.3 L1262.6 440.2Z"/><path d="M255.6 228.2 L266.6 239.2 L281.2 250.1 L295.9 261.1 L308.7 272.1 L317.8 283.1 L321.5 294.1 L325.2 305.0 L336.1 311.4 L350.8 316.0 L369.1 319.7 L387.4 321.5 L405.7 323.3 L424.0 326.1 L442.3 328.8 L460.6 330.7 L482.6 334.3 L482.6 228.2Z"/></g>
<g fill="#b8e020"><path d="M279.0 171.6 L282.7 164.3 L293.7 160.7 L306.5 158.8 L319.3 157.0 L332.1 155.2 L348.6 155.2 L348.6 173.5Z"/><path d="M358.8 171.6 L359.7 155.2 L366.1 148.8 L378.9 147.8 L388.1 151.5 L393.6 158.8 L400.9 162.5 L406.4 171.6Z"/><path d="M279.6 159.2 L292.4 157.3 L310.7 161.0 L329.0 159.2 L347.3 164.6 L365.6 168.3 L383.9 166.5 L398.6 168.3 L398.6 261.6 L329.0 261.6 L321.7 252.5 L310.7 245.2 L307.1 236.0 L299.7 228.7 L288.8 225.0 L277.8 219.5 L270.5 210.4 L274.1 201.2 L266.8 193.9 L255.8 192.1 L259.5 184.8 L274.1 179.3 L281.4 170.1Z"/><path d="M344.2 168.2 L415.5 168.2 L415.5 170.0 L437.5 188.3 L455.8 206.6 L472.3 224.9 L481.4 243.2 L496.1 261.5 L510.7 281.6 L344.2 281.6Z"/><path d="M594.2 281.3 L601.5 279.5 L606.6 274.0 L609.7 266.7 L615.2 262.5 L623.5 265.4 L632.6 269.0 L643.6 272.7 L656.4 274.7 L667.7 276.6 L675.1 280.8 L681.1 288.1 L684.8 293.6 L692.1 297.6 L703.1 302.0 L714.0 306.6 L725.0 310.6 L739.7 314.3 L753.4 317.5 L760.7 322.5 L760.7 331.6 L594.2 331.6Z"/><path d="M355.7 278.2 L350.2 287.3 L344.7 296.5 L344.7 303.8 L353.9 307.5 L364.8 309.3 L375.8 311.1 L385.0 314.8 L396.0 316.6 L406.9 314.8 L417.9 312.9 L432.6 311.1 L432.6 278.2Z"/><path d="M344.2 278.2 L529.0 278.2 L540.0 284.6 L551.0 289.2 L562.0 292.8 L572.9 296.5 L583.9 302.0 L598.6 309.3 L598.6 356.9 L580.3 353.2 L565.6 349.5 L551.0 345.9 L536.3 342.2 L521.7 338.6 L507.1 336.7 L492.4 334.9 L477.8 333.1 L463.1 330.3 L448.5 325.8 L437.5 322.1 L430.2 316.6 L419.2 314.8 L404.6 316.6 L389.9 315.7 L375.3 314.8 L360.6 312.9 L344.2 311.1Z"/><path d="M594.2 278.2 L680.2 278.2 L682.0 287.3 L687.5 295.6 L704.0 303.4 L724.1 311.7 L742.4 315.9 L751.6 319.3 L754.3 325.8 L751.2 331.6 L757.1 335.6 L779.0 338.2 L797.3 338.6 L812.0 337.8 L824.8 341.3 L848.6 342.8 L848.6 391.6 L661.9 391.6 L650.9 384.3 L639.9 378.8 L628.9 373.3 L618.0 367.8 L607.0 360.5 L594.2 355.0Z"/><path d="M844.2 345.0 L853.3 344.4 L857.0 353.2 L853.3 360.5 L864.3 362.0 L878.9 361.4 L886.3 357.8 L893.6 352.3 L906.4 350.5 L915.5 356.0 L924.7 359.1 L937.5 363.3 L948.5 362.7 L963.1 363.3 L977.8 364.6 L992.4 365.7 L1007.1 366.4 L1021.7 367.1 L1036.3 367.1 L1051.0 366.2 L1065.6 365.3 L1080.3 364.4 L1098.6 363.5 L1098.6 391.6 L844.2 391.6Z"/><path d="M1008.2 369.1 L1028.3 367.6 L1046.6 368.1 L1064.9 365.4 L1083.2 361.7 L1096.0 357.7 L1107.0 351.3 L1118.0 345.8 L1129.0 341.2 L1139.9 336.7 L1152.8 332.5 L1163.7 329.9 L1174.7 329.3 L1189.4 331.2 L1204.0 332.5 L1218.6 335.4 L1233.3 341.6 L1246.1 347.1 L1255.2 351.3 L1262.6 353.1 L1262.6 401.6 L1174.7 401.6 L1154.6 373.3 L1152.8 377.8 L1141.8 381.1 L1127.1 386.1 L1114.3 391.6 L1105.2 396.1 L1097.8 401.6 L1008.2 401.6Z"/><path d="M389.9 418.4 L402.7 421.1 L413.7 424.8 L421.0 430.3 L424.7 435.8 L422.0 439.0 L410.1 433.9 L399.1 427.5 L391.8 422.9Z"/><path d="M425.1 448.2 L433.8 450.0 L444.8 455.0 L454.0 459.2 L455.8 463.2 L465.0 476.0 L466.8 482.4 L463.1 486.1 L455.8 488.8 L450.3 478.8 L437.5 470.5 L428.4 461.4 L425.6 452.2Z"/><path d="M621.6 388.2 L632.6 395.5 L650.9 399.2 L669.2 402.8 L683.8 408.3 L698.5 413.8 L709.5 421.1 L724.1 424.8 L738.8 422.9 L753.4 424.8 L760.7 421.1 L775.4 417.5 L790.0 415.6 L801.0 421.1 L815.6 424.8 L830.3 426.6 L841.2 430.3 L848.6 432.1 L848.6 388.2Z"/><path d="M844.2 388.2 L1098.6 388.2 L1098.6 393.7 L1080.3 398.2 L1065.6 401.9 L1051.0 405.6 L1036.3 409.2 L1021.7 412.9 L1007.1 415.6 L992.4 418.4 L977.8 421.1 L963.1 423.9 L948.5 426.6 L933.8 427.5 L919.2 429.3 L904.6 431.2 L889.9 431.2 L875.3 430.3 L860.6 431.2 L844.2 432.1Z"/><path d="M1008.2 414.7 L1010.0 413.8 L1037.5 411.0 L1064.9 407.4 L1092.4 400.1 L1119.8 392.7 L1123.5 388.2 L1008.2 388.2Z"/><path d="M830.4 447.5 L850.5 446.6 L852.4 456.6 L835.9 457.6Z"/><path d="M272.1 228.2 L281.2 237.3 L292.2 241.0 L303.2 248.3 L314.2 257.5 L325.2 266.6 L328.8 277.6 L325.2 288.6 L332.5 299.5 L339.8 308.7 L354.5 313.3 L372.8 316.0 L391.1 317.8 L409.4 319.7 L427.7 322.4 L446.0 325.2 L464.3 327.0 L482.6 329.7 L482.6 228.2Z"/></g>
<g fill="#f4f410"><path d="M344.2 80.5 L357.0 80.5 L366.1 82.0 L372.5 87.5 L376.2 94.8 L373.5 99.3 L368.0 94.8 L360.6 90.2 L351.5 87.5 L344.2 87.5Z"/><path d="M319.9 192.1 L338.2 193.9 L356.5 192.1 L374.8 193.9 L398.6 192.1 L398.6 241.5 L383.9 232.4 L374.8 223.2 L356.5 219.5 L347.3 210.4 L329.0 203.1Z"/><path d="M373.5 190.1 L391.8 188.3 L410.1 188.3 L422.9 193.8 L433.8 201.1 L444.8 210.3 L455.8 219.4 L465.0 230.4 L474.1 239.5 L483.3 250.5 L490.6 261.5 L499.7 272.5 L507.1 281.6 L378.9 281.6 L386.3 268.8 L382.6 257.8 L371.6 250.5 L364.3 243.2 L368.0 232.2 L357.0 228.6 L344.2 226.7 L344.2 199.3 L360.6 195.6Z"/><path d="M594.2 282.2 L601.5 280.4 L607.0 274.9 L610.6 267.6 L616.1 263.9 L623.5 266.7 L632.6 270.3 L643.6 274.0 L656.4 275.8 L667.4 277.7 L674.7 282.2 L680.2 289.5 L683.8 295.0 L691.2 298.7 L702.1 303.3 L713.1 307.8 L724.1 311.5 L738.8 315.2 L751.6 318.8 L757.1 324.3 L753.4 331.6 L594.2 331.6Z"/><path d="M363.0 278.2 L355.7 287.3 L353.9 296.5 L363.0 302.0 L374.0 305.6 L385.0 307.5 L396.0 307.5 L406.9 309.3 L417.9 307.5 L432.6 305.6 L432.6 278.2Z"/><path d="M368.0 278.2 L521.7 278.2 L532.7 285.5 L543.7 291.0 L554.6 294.6 L565.6 298.3 L576.6 303.8 L587.6 311.1 L598.6 314.8 L598.6 350.5 L583.9 346.8 L572.9 345.0 L558.3 342.2 L543.7 338.6 L529.0 334.9 L514.4 333.1 L499.7 331.2 L485.1 329.4 L470.5 327.6 L455.8 325.8 L444.8 318.4 L433.8 312.9 L422.9 307.5 L408.2 311.1 L393.6 309.3 L378.9 307.5 L368.0 303.8 L362.5 294.6Z"/><path d="M594.2 278.2 L679.3 278.2 L681.1 287.3 L684.8 293.7 L693.0 299.2 L704.0 303.8 L715.0 308.4 L725.9 312.0 L736.9 314.8 L747.9 317.5 L755.2 321.2 L753.4 325.8 L750.6 331.2 L755.2 334.9 L768.0 337.1 L790.0 338.9 L804.6 338.6 L812.0 338.2 L822.9 340.4 L833.9 342.6 L848.6 343.1 L848.6 391.6 L683.8 391.6 L672.9 386.1 L658.2 380.7 L643.6 375.2 L632.6 369.7 L618.0 364.2 L607.0 356.9 L594.2 351.4Z"/><path d="M844.2 345.9 L852.4 345.5 L855.2 353.2 L851.5 360.5 L864.3 362.7 L878.9 362.0 L886.3 359.1 L893.6 354.7 L906.4 353.6 L915.5 357.2 L924.7 360.5 L937.5 364.2 L948.5 363.6 L963.1 364.4 L977.8 365.5 L992.4 366.4 L1007.1 367.3 L1021.7 368.0 L1036.3 368.0 L1051.0 367.1 L1065.6 366.2 L1080.3 365.3 L1098.6 364.4 L1098.6 391.6 L844.2 391.6Z"/><path d="M1008.2 369.6 L1028.3 368.3 L1046.6 369.1 L1064.9 366.9 L1083.2 364.1 L1097.8 360.5 L1108.8 354.1 L1119.8 348.6 L1130.8 343.1 L1141.8 338.5 L1152.8 334.8 L1163.7 332.5 L1174.7 333.0 L1189.4 334.8 L1204.0 335.8 L1218.6 338.5 L1233.3 344.9 L1244.3 350.4 L1255.2 355.0 L1262.6 356.8 L1262.6 401.6 L1174.7 401.6 L1154.6 373.3 L1152.8 376.0 L1141.8 378.8 L1127.1 383.3 L1112.5 388.8 L1101.5 394.3 L1092.4 398.0 L1086.9 401.6 L1008.2 401.6Z"/><path d="M425.6 450.8 L433.8 451.7 L444.8 456.8 L454.0 460.5 L455.8 463.2 L465.0 476.0 L466.8 482.4 L463.1 486.1 L455.8 488.8 L450.3 478.8 L437.5 470.5 L428.4 461.4 L426.2 454.1Z"/><path d="M669.2 388.2 L676.5 397.3 L691.2 401.0 L705.8 404.6 L713.1 413.8 L724.1 415.6 L738.8 410.1 L749.7 417.5 L760.7 413.8 L775.4 410.1 L790.0 408.3 L801.0 415.6 L815.6 417.5 L826.6 413.8 L837.6 419.3 L848.6 422.9 L848.6 388.2Z"/><path d="M844.2 388.2 L1098.6 388.2 L1098.6 390.0 L1080.3 394.6 L1065.6 398.2 L1051.0 401.9 L1036.3 405.6 L1021.7 409.2 L1007.1 411.0 L992.4 413.8 L977.8 415.6 L963.1 418.4 L948.5 420.2 L933.8 421.1 L919.2 422.0 L904.6 423.9 L889.9 424.8 L875.3 423.9 L860.6 424.8 L844.2 426.6Z"/><path d="M1008.2 408.3 L1037.5 405.6 L1064.9 402.8 L1092.4 395.5 L1108.8 388.2 L1008.2 388.2Z"/><path d="M1178.4 388.2 L1179.8 399.2 L1183.0 408.3 L1179.3 417.5 L1177.5 426.6 L1177.5 444.9 L1179.3 463.2 L1184.8 477.8 L1192.1 488.8 L1200.3 499.8 L1262.6 501.6 L1262.6 388.2Z"/><path d="M1180.2 440.2 L1181.1 453.0 L1185.7 467.6 L1194.8 481.3 L1204.9 494.2 L1214.1 502.4 L1223.2 512.5 L1233.3 518.9 L1238.8 526.2 L1246.1 531.7 L1262.6 533.5 L1262.6 440.2Z"/><path d="M383.7 228.2 L381.9 241.0 L376.4 252.0 L369.1 262.9 L358.1 272.1 L350.8 283.1 L349.0 292.2 L358.1 303.2 L376.4 310.5 L394.7 312.4 L413.0 314.2 L431.3 317.8 L449.6 320.6 L467.9 322.4 L482.6 325.2 L482.6 228.2Z"/></g>
<g fill="#ffc000"><path d="M435.7 232.2 L448.5 228.6 L459.5 234.1 L470.5 241.4 L474.1 248.7 L485.1 256.0 L492.4 265.2 L499.7 272.5 L510.7 276.1 L518.0 281.6 L415.5 281.6 L417.4 268.8 L422.9 263.3 L426.5 256.0 L422.9 248.7 L430.2 243.2 L437.5 239.5Z"/><path d="M391.8 216.7 L400.9 216.7 L401.8 221.2 L392.7 221.6Z"/><path d="M612.5 274.9 L618.0 269.4 L625.3 270.3 L632.6 274.0 L643.6 277.7 L650.9 282.2 L660.1 284.1 L669.2 287.7 L676.5 293.2 L683.8 298.7 L694.8 303.3 L705.8 307.8 L716.8 312.4 L727.8 315.2 L742.4 318.8 L751.6 322.5 L751.6 331.6 L643.6 331.6 L638.1 322.5 L632.6 315.2 L627.1 307.8 L623.5 300.5 L625.3 293.2 L619.8 287.7 L614.3 282.2Z"/><path d="M405.1 299.2 L416.1 298.3 L419.8 302.0 L412.4 303.8 L406.0 302.3Z"/><path d="M437.5 278.2 L448.5 291.0 L459.5 300.1 L466.8 311.1 L474.1 318.4 L485.1 323.9 L499.7 325.8 L514.4 327.6 L529.0 329.4 L543.7 333.1 L558.3 336.7 L572.9 338.6 L583.9 340.4 L598.6 342.2 L598.6 316.6 L583.9 314.8 L572.9 307.5 L562.0 302.0 L547.3 298.3 L536.3 294.6 L529.0 289.2 L521.7 283.7 L518.0 278.2Z"/><path d="M406.4 299.2 L419.2 299.2 L419.2 303.8 L406.4 303.8Z"/><path d="M619.8 278.2 L625.3 289.2 L623.5 300.1 L627.1 311.1 L639.9 316.6 L645.4 325.8 L641.8 334.9 L632.6 338.6 L618.0 333.1 L607.0 329.4 L594.2 327.6 L594.2 344.1 L607.0 347.7 L618.0 353.2 L632.6 358.7 L647.2 364.2 L661.9 369.7 L676.5 375.2 L691.2 380.7 L705.8 386.1 L716.8 391.6 L848.6 391.6 L848.6 345.0 L833.9 344.1 L822.9 342.2 L812.0 340.4 L804.6 339.7 L797.3 339.7 L790.0 340.0 L779.0 338.9 L768.0 338.2 L757.1 336.7 L750.6 333.1 L752.5 327.6 L754.9 322.5 L748.8 319.0 L738.8 316.2 L727.8 313.5 L716.8 309.8 L705.8 305.3 L694.8 300.7 L685.7 295.6 L680.2 289.2 L676.5 281.8 L674.7 278.2Z"/><path d="M844.2 360.5 L857.0 363.3 L868.0 364.2 L882.6 363.3 L893.6 362.4 L906.4 363.3 L919.2 366.0 L932.0 367.8 L944.8 367.8 L959.5 368.8 L974.1 368.8 L988.8 369.3 L1003.4 368.8 L1018.0 368.8 L1032.7 368.2 L1047.3 367.8 L1062.0 367.5 L1076.6 366.4 L1098.6 365.7 L1098.6 391.6 L844.2 391.6Z"/><path d="M1010.7 344.1 L1021.7 339.5 L1030.8 336.7 L1047.3 336.4 L1062.0 335.8 L1069.3 334.0 L1070.2 340.4 L1058.3 341.3 L1043.7 341.3 L1032.7 341.3 L1021.7 344.1Z"/><path d="M1008.2 370.5 L1028.3 369.6 L1046.6 370.5 L1064.9 368.7 L1083.2 366.9 L1101.5 365.0 L1112.5 359.5 L1123.5 354.1 L1134.5 350.4 L1145.4 344.9 L1156.4 341.2 L1167.4 339.0 L1182.0 339.0 L1196.7 341.2 L1211.3 344.9 L1224.1 350.4 L1238.8 357.7 L1253.4 366.9 L1262.6 370.5 L1262.6 401.6 L1174.7 401.6 L1154.6 373.3 L1152.8 374.2 L1141.8 376.0 L1127.1 379.7 L1112.5 384.3 L1101.5 388.8 L1090.5 392.5 L1079.5 396.1 L1070.4 401.6 L1008.2 401.6Z"/><path d="M1008.2 343.1 L1019.2 340.3 L1030.1 336.7 L1041.1 338.5 L1052.1 337.6 L1063.1 335.8 L1068.6 333.0 L1069.5 338.5 L1063.1 340.3 L1052.1 342.2 L1041.1 342.7 L1030.1 340.3 L1019.2 343.4 L1008.2 344.9Z"/><path d="M427.4 456.8 L437.5 457.7 L446.7 459.5 L454.0 463.2 L457.6 470.5 L460.4 477.8 L459.5 485.2 L455.8 487.9 L451.2 479.7 L439.3 471.4 L430.2 463.2Z"/><path d="M724.1 388.2 L735.1 391.8 L747.9 395.5 L760.7 401.0 L764.4 408.3 L779.0 404.6 L793.7 402.8 L808.3 404.6 L822.9 408.3 L837.6 410.1 L848.6 412.0 L848.6 388.2Z"/><path d="M844.2 388.2 L1091.2 388.2 L1080.3 391.8 L1065.6 394.6 L1051.0 397.3 L1036.3 401.0 L1021.7 404.6 L1010.7 407.4 L999.7 408.3 L988.8 405.6 L974.1 406.5 L959.5 407.4 L944.8 408.3 L930.2 406.5 L919.2 403.7 L908.2 406.5 L900.9 412.0 L886.3 412.9 L871.6 412.0 L857.0 413.8 L844.2 413.8Z"/><path d="M1008.2 401.0 L1037.5 399.2 L1064.9 397.3 L1083.2 391.8 L1090.5 388.2 L1008.2 388.2Z"/><path d="M1179.3 388.2 L1181.1 399.2 L1185.7 408.3 L1182.0 417.5 L1180.2 426.6 L1180.2 444.9 L1182.0 463.2 L1188.4 477.8 L1194.8 488.8 L1202.2 499.8 L1204.0 501.6 L1262.6 501.6 L1262.6 388.2Z"/><path d="M1183.9 440.2 L1184.8 453.0 L1189.4 467.6 L1197.6 480.4 L1207.7 492.3 L1216.8 500.6 L1226.0 509.7 L1236.0 517.0 L1241.5 524.4 L1247.9 529.8 L1262.6 531.7 L1262.6 440.2Z"/><path d="M436.8 228.2 L456.9 228.2 L467.9 241.0 L458.8 248.3 L446.0 252.0 L431.3 248.3 L424.0 244.6Z"/><path d="M416.7 261.1 L431.3 259.3 L438.6 266.6 L427.7 270.3 L418.5 266.6Z"/><path d="M436.8 266.6 L449.6 270.3 L460.6 284.9 L456.9 294.1 L446.0 290.4 L438.6 279.4Z"/><path d="M464.3 244.6 L482.6 248.3 L482.6 314.2 L475.2 312.4 L467.9 299.5 L464.3 284.9 L467.9 266.6Z"/><path d="M405.7 298.6 L420.3 299.5 L422.2 303.2 L407.5 303.2Z"/></g>
<g fill="#ff8000"><path d="M344.2 80.9 L357.0 80.9 L366.1 82.3 L371.6 87.5 L374.9 93.9 L371.6 95.7 L366.1 90.2 L358.8 86.5 L349.7 84.7 L344.2 84.7Z"/><path d="M648.2 297.2 L659.1 297.2 L659.1 300.2 L648.2 300.2Z"/><path d="M644.5 307.8 L650.9 308.8 L660.1 312.4 L658.2 315.2 L649.1 314.3 L645.4 311.5Z"/><path d="M661.9 314.3 L672.9 314.3 L671.0 319.7 L665.5 321.6 L662.8 317.9Z"/><path d="M716.8 325.2 L727.8 328.0 L731.4 331.6 L716.8 331.6Z"/><path d="M715.0 325.8 L724.1 325.8 L735.1 329.4 L742.4 327.6 L744.2 334.9 L753.4 336.7 L764.4 340.4 L779.0 342.2 L793.7 344.1 L804.6 347.7 L815.6 353.2 L826.6 358.7 L837.6 362.4 L848.6 363.3 L848.6 382.5 L841.2 381.6 L833.9 378.8 L822.9 375.2 L812.0 371.5 L801.0 367.8 L790.0 364.2 L779.0 362.4 L768.0 360.5 L757.1 356.9 L746.1 353.2 L735.1 351.4 L727.8 345.9 L720.5 340.4 L715.0 334.9Z"/><path d="M740.6 361.4 L749.7 361.4 L757.1 367.8 L764.4 368.8 L760.7 372.4 L749.7 373.3 L742.4 369.7 L738.8 365.1Z"/><path d="M786.3 367.8 L793.7 369.7 L790.0 375.2 L786.3 375.2Z"/><path d="M644.5 308.4 L650.9 307.5 L661.0 312.0 L660.1 314.8 L649.1 314.8 L644.5 311.1Z"/><path d="M661.9 314.8 L673.8 313.9 L671.0 319.3 L666.5 322.1 L662.8 318.4Z"/><path d="M647.2 297.0 L659.1 297.0 L659.1 299.8 L647.2 299.8Z"/><path d="M671.0 334.0 L676.5 334.0 L676.5 338.6 L671.0 338.6Z"/><path d="M715.9 358.7 L722.3 359.6 L722.3 364.2 L716.8 363.3Z"/><path d="M844.2 366.0 L857.0 367.8 L864.3 373.3 L875.3 377.0 L889.9 377.9 L904.6 377.0 L919.2 376.1 L930.2 377.0 L941.2 377.9 L955.8 379.7 L970.5 380.7 L981.4 382.5 L992.4 384.3 L1003.4 388.0 L1007.1 391.6 L844.2 391.6Z"/><path d="M1010.7 379.7 L1025.4 378.8 L1040.0 382.5 L1054.6 384.3 L1069.3 381.6 L1083.9 380.7 L1098.6 379.7 L1098.6 391.6 L1010.7 391.6Z"/><path d="M1045.5 336.4 L1062.0 335.8 L1068.4 334.2 L1068.9 338.2 L1058.3 339.3 L1047.3 338.9Z"/><path d="M1008.2 376.0 L1028.3 374.2 L1046.6 375.1 L1064.9 376.0 L1083.2 374.2 L1101.5 372.4 L1116.1 366.9 L1127.1 361.4 L1138.1 357.7 L1149.1 354.1 L1160.1 351.3 L1174.7 350.4 L1189.4 351.3 L1204.0 353.1 L1215.0 355.9 L1226.0 361.4 L1238.8 370.5 L1247.9 379.7 L1255.2 387.0 L1262.6 388.8 L1262.6 401.6 L1174.7 401.6 L1154.6 373.3 L1145.4 372.4 L1138.1 371.4 L1127.1 373.3 L1116.1 376.0 L1101.5 378.8 L1086.9 380.6 L1072.2 381.5 L1061.2 382.4 L1053.9 388.8 L1057.6 396.1 L1053.9 401.6 L1008.2 401.6Z"/><path d="M1037.5 338.5 L1052.1 337.6 L1063.1 335.8 L1068.2 333.6 L1068.6 337.6 L1063.1 339.4 L1052.1 340.9 L1039.3 341.2Z"/><path d="M875.3 388.2 L893.6 391.8 L911.9 392.7 L930.2 393.7 L948.5 391.8 L974.1 390.9 L992.4 392.7 L1010.7 391.8 L1029.0 391.8 L1047.3 390.0 L1047.3 388.2Z"/><path d="M1008.2 393.7 L1028.3 393.7 L1052.1 391.8 L1057.6 388.2 L1008.2 388.2Z"/><path d="M1181.1 388.2 L1183.9 397.3 L1191.2 406.5 L1187.5 417.5 L1185.7 426.6 L1185.7 444.9 L1187.5 463.2 L1193.0 477.8 L1200.3 488.8 L1207.7 499.8 L1209.5 501.6 L1262.6 501.6 L1262.6 388.2Z"/><path d="M1188.4 440.2 L1189.0 453.0 L1193.9 467.6 L1201.3 480.4 L1211.3 491.4 L1220.5 499.7 L1229.6 508.8 L1238.8 515.2 L1244.3 522.5 L1249.8 528.0 L1262.6 529.8 L1262.6 440.2Z"/></g>
<g fill="#ff3000"><path d="M349.7 81.6 L358.8 81.2 L366.1 82.7 L371.3 87.5 L373.8 92.9 L369.8 92.0 L364.3 87.5 L357.0 84.7 L350.6 83.4Z"/><path d="M902.7 378.8 L922.9 377.9 L923.8 380.3 L904.6 381.0Z"/><path d="M1160.1 358.6 L1174.7 356.8 L1189.4 358.1 L1202.2 360.5 L1211.3 363.2 L1220.5 370.5 L1227.8 381.5 L1233.3 392.5 L1236.9 401.6 L1185.7 401.6 L1189.4 392.5 L1193.0 381.5 L1193.0 370.5 L1185.7 366.9 L1174.7 365.0 L1167.4 364.1Z"/><path d="M1119.8 376.0 L1134.5 372.4 L1149.1 369.6 L1156.4 366.9 L1156.4 369.1 L1149.1 372.0 L1136.3 374.6 L1121.6 377.8Z"/><path d="M1200.3 388.2 L1204.0 397.3 L1209.5 406.5 L1215.0 415.6 L1220.5 426.6 L1211.3 435.8 L1196.7 441.2 L1193.0 450.4 L1193.0 463.2 L1196.7 474.2 L1202.2 483.3 L1209.5 492.5 L1215.0 501.6 L1262.6 501.6 L1262.6 402.8 L1253.4 404.6 L1244.3 401.0 L1236.9 395.5 L1231.4 388.2Z"/><path d="M1193.0 440.2 L1193.0 453.0 L1198.5 467.6 L1204.9 480.4 L1215.0 491.4 L1226.0 500.6 L1233.3 508.8 L1241.5 514.3 L1246.1 520.7 L1251.6 526.2 L1262.6 528.0 L1262.6 440.2Z"/></g>
<g fill="#e20000"><path d="M1262.6 435.8 L1253.4 435.8 L1244.3 439.4 L1229.6 443.1 L1218.6 444.9 L1209.5 448.6 L1202.2 455.9 L1200.3 466.9 L1204.0 476.0 L1209.5 485.2 L1216.8 494.3 L1222.3 501.6 L1262.6 501.6Z"/><path d="M1216.8 440.2 L1204.0 449.3 L1201.3 456.6 L1205.8 467.6 L1211.3 482.3 L1222.3 493.2 L1231.4 500.6 L1236.9 507.9 L1244.3 512.5 L1248.8 518.9 L1253.4 524.4 L1262.6 526.2 L1262.6 440.2Z"/></g>
<g fill="#9c0000"><path d="M1262.6 443.1 L1253.4 443.1 L1240.6 446.7 L1229.6 450.4 L1220.5 454.1 L1211.3 461.4 L1210.4 468.7 L1215.0 477.8 L1218.6 487.0 L1226.0 496.1 L1231.4 501.6 L1262.6 501.6Z"/><path d="M1246.1 440.2 L1226.0 450.1 L1214.1 462.1 L1215.0 469.5 L1218.6 482.3 L1229.6 493.2 L1236.9 500.6 L1240.6 506.1 L1247.9 509.7 L1251.6 517.0 L1255.2 522.5 L1262.6 524.4 L1262.6 440.2Z"/></g>
<path d="M288.8 232.4 L299.7 230.5 L307.1 237.8 L321.7 245.2 L329.0 252.5 L321.7 259.8 L307.1 258.0 L296.1 248.8 L290.6 241.5Z" fill="#50b438"/>
<path d="M292.4 235.1 L299.7 234.2 L303.4 239.7 L297.9 241.5Z" fill="#18a050"/>
<path d="M307.1 247.0 L318.0 248.8 L321.7 254.3 L310.7 255.2Z" fill="#18a050"/>
<path d="M301.6 166.5 L314.4 166.5 L314.4 173.8 L301.6 173.8Z" fill="#88cc28"/>
<path d="M270.5 195.8 L299.7 195.8 L299.7 203.1 L270.5 203.1Z" fill="#88cc28"/>
<path d="M193.6 172.0 L206.4 170.1 L215.5 177.5 L208.2 186.6 L197.2 182.9Z" fill="#88cc28"/>
<path d="M299.7 223.2 L305.2 223.2 L305.2 230.5 L299.7 230.5Z" fill="#f4f410"/>
<path d="M448.5 243.2 L459.5 245.0 L463.1 252.4 L455.8 256.0 L450.3 250.5Z" fill="#f4f410"/>
<path d="M424.7 250.5 L432.0 248.7 L437.5 256.0 L430.2 261.5 L424.7 257.8Z" fill="#f4f410"/>
<path d="M441.2 232.2 L448.5 231.3 L450.3 237.7 L443.0 239.5Z" fill="#f4f410"/>
<path d="M463.1 256.0 L472.3 257.8 L474.1 265.2 L465.0 265.2Z" fill="#f4f410"/>
<path d="M419.2 272.5 L428.4 270.7 L432.0 278.0 L422.9 279.8Z" fill="#f4f410"/>
<path d="M455.8 268.8 L465.0 267.9 L466.8 274.3 L457.6 276.1Z" fill="#f4f410"/>
<path d="M477.8 272.5 L486.9 270.7 L490.6 278.0 L481.4 279.8Z" fill="#f4f410"/>
<path d="M432.0 268.8 L441.2 267.0 L444.8 276.1 L437.5 279.8 L432.0 276.1Z" fill="#f4f410"/>
<path d="M373.5 244.1 L382.6 244.1 L383.5 248.3 L374.4 248.3Z" fill="#18a050"/>
<path d="M346.0 256.0 L351.5 256.0 L351.5 261.5 L346.0 261.5Z" fill="#18a050"/>
<path d="M375.3 259.7 L382.6 259.7 L382.6 263.7 L375.3 263.7Z" fill="#18a050"/>
<path d="M397.2 246.9 L408.2 247.8 L409.1 254.2 L399.1 254.2Z" fill="#88cc28"/>
<path d="M357.0 208.4 L366.1 209.3 L366.1 214.8 L357.9 213.9Z" fill="#88cc28"/>
<path d="M389.9 201.1 L400.9 202.9 L406.4 208.4 L397.2 210.3 L389.9 206.6Z" fill="#b8e020"/>
<path d="M594.2 296.9 L601.5 296.9 L601.5 302.4 L594.2 302.4Z" fill="#b8e020"/>
<path d="M594.2 307.8 L607.0 307.8 L607.0 311.5 L594.2 311.5Z" fill="#b8e020"/>
<path d="M605.2 319.7 L619.8 319.7 L619.8 323.4 L605.2 323.4Z" fill="#b8e020"/>
<path d="M331.9 287.3 L341.1 286.4 L346.5 291.0 L342.9 296.5 L333.7 295.6Z" fill="#50b438"/>
<path d="M350.2 310.2 L363.0 309.3 L372.2 312.9 L370.3 316.6 L355.7 315.7Z" fill="#18a050"/>
<path d="M441.2 312.9 L450.3 312.9 L453.1 325.8 L444.8 325.8Z" fill="#18a050"/>
<path d="M475.9 325.8 L483.3 325.8 L483.3 329.4 L475.9 329.4Z" fill="#18a050"/>
<path d="M349.7 311.1 L357.0 309.3 L371.6 312.0 L373.5 319.3 L362.5 320.3 L351.5 317.5Z" fill="#18a050"/>
<path d="M514.4 338.6 L521.7 338.6 L522.6 353.2 L515.3 353.2Z" fill="#50b438"/>
<path d="M474.1 309.3 L483.3 308.4 L485.1 313.9 L476.9 315.7Z" fill="#f4f410"/>
<path d="M547.3 323.0 L556.5 323.0 L556.5 327.6 L547.3 327.6Z" fill="#f4f410"/>
<path d="M364.3 287.3 L378.9 285.5 L386.3 291.0 L375.3 294.6 L364.3 292.8Z" fill="#b8e020"/>
<path d="M422.9 291.0 L433.8 291.0 L435.7 296.5 L424.7 297.4Z" fill="#b8e020"/>
<path d="M452.1 345.9 L466.8 344.1 L470.5 351.4 L459.5 353.2 L452.1 350.5Z" fill="#18a050"/>
<path d="M676.5 334.9 L683.8 334.9 L683.8 339.5 L676.5 339.5Z" fill="#50b438"/>
<path d="M674.7 361.4 L682.0 361.4 L682.0 366.0 L674.7 366.0Z" fill="#50b438"/>
<path d="M753.4 359.6 L760.7 359.6 L760.7 364.2 L753.4 364.2Z" fill="#88cc28"/>
<path d="M776.3 376.1 L789.1 376.1 L789.1 383.4 L776.3 383.4Z" fill="#b8e020"/>
<path d="M778.1 377.5 L787.3 377.5 L787.3 381.9 L778.1 381.9Z" fill="#50b438"/>
<path d="M691.2 383.4 L698.5 383.4 L698.5 387.1 L691.2 387.1Z" fill="#88cc28"/>
<path d="M825.7 346.8 L843.1 346.8 L844.0 358.7 L826.6 358.7Z" fill="#b8e020"/>
<path d="M829.3 349.2 L840.3 349.2 L840.9 356.5 L829.9 356.5Z" fill="#50b438"/>
<path d="M594.2 307.5 L607.0 307.5 L607.0 311.5 L594.2 311.5Z" fill="#b8e020"/>
<path d="M607.0 319.3 L619.8 319.3 L619.8 323.9 L607.0 323.9Z" fill="#b8e020"/>
<path d="M760.7 321.2 L771.7 322.1 L786.3 323.9 L797.3 326.7 L799.1 333.1 L790.0 330.3 L775.4 329.4 L760.7 327.6Z" fill="#18a050"/>
<path d="M851.5 348.6 L868.0 347.3 L882.6 350.5 L881.7 358.7 L868.0 360.9 L853.3 358.7Z" fill="#50b438"/>
<path d="M854.2 350.1 L868.0 349.2 L879.9 351.7 L878.9 357.8 L868.0 359.2 L856.1 357.8Z" fill="#18a050"/>
<path d="M930.2 356.9 L944.8 356.9 L944.8 363.3 L930.2 363.3Z" fill="#18a050"/>
<path d="M927.4 368.8 L941.2 368.8 L942.1 377.0 L928.4 377.9Z" fill="#b8e020"/>
<path d="M1029.0 370.6 L1045.5 370.6 L1046.4 384.3 L1029.9 384.3Z" fill="#b8e020"/>
<path d="M1031.8 372.4 L1042.7 372.4 L1043.7 381.6 L1032.7 381.6Z" fill="#18a050"/>
<path d="M921.0 382.5 L930.2 382.5 L931.1 388.0 L922.0 388.0Z" fill="#b8e020"/>
<path d="M1070.4 382.4 L1086.9 381.5 L1101.5 379.7 L1105.2 383.3 L1090.5 387.0 L1075.9 388.8 L1064.9 387.9Z" fill="#ffc000"/>
<path d="M1010.0 388.8 L1024.6 387.0 L1028.3 392.5 L1017.3 396.1 L1010.0 395.2Z" fill="#ffc000"/>
<path d="M1028.3 371.4 L1045.7 371.4 L1046.6 384.3 L1029.2 384.3Z" fill="#b8e020"/>
<path d="M1031.0 373.3 L1043.9 373.3 L1044.4 382.4 L1031.6 382.4Z" fill="#50b438"/>
<path d="M1033.8 376.0 L1041.1 376.0 L1041.5 380.6 L1034.2 380.6Z" fill="#18a050"/>
<path d="M751.6 446.7 L764.4 444.9 L779.0 448.6 L788.2 454.1 L779.0 461.4 L764.4 463.2 L753.4 459.5Z" fill="#18a050"/>
<path d="M678.4 405.6 L694.8 405.6 L694.8 409.8 L678.4 409.8Z" fill="#50b438"/>
<path d="M720.5 408.3 L733.3 408.3 L733.3 415.6 L720.5 415.6Z" fill="#50b438"/>
<path d="M766.2 401.9 L780.8 401.9 L780.8 406.5 L766.2 406.5Z" fill="#50b438"/>
<path d="M618.0 402.8 L632.6 403.7 L634.4 410.1 L619.8 409.2Z" fill="#50b438"/>
<path d="M650.9 410.1 L669.2 412.0 L672.9 419.3 L654.6 419.3Z" fill="#50b438"/>
<path d="M698.5 424.8 L720.5 426.6 L724.1 433.9 L702.1 433.0Z" fill="#50b438"/>
<path d="M784.5 439.4 L793.7 440.3 L793.7 448.6 L785.4 447.7Z" fill="#88cc28"/>
<path d="M999.7 433.9 L1010.7 430.3 L1025.4 424.8 L1029.0 428.4 L1018.0 435.8 L1007.1 441.2Z" fill="#18a050"/>
<path d="M927.4 397.3 L946.7 397.3 L946.7 406.1 L927.4 406.1Z" fill="#b8e020"/>
<path d="M929.8 398.4 L943.9 398.4 L943.9 404.3 L929.8 404.3Z" fill="#50b438"/>
<path d="M995.2 399.2 L1008.9 399.2 L1008.9 407.4 L995.2 407.4Z" fill="#b8e020"/>
<path d="M997.0 400.1 L1007.1 400.1 L1007.1 406.5 L997.0 406.5Z" fill="#50b438"/>
<path d="M853.3 415.6 L888.1 415.6 L888.1 420.2 L853.3 420.2Z" fill="#b8e020"/>
<path d="M857.0 416.7 L884.4 416.7 L884.4 418.9 L857.0 418.9Z" fill="#50b438"/>
<path d="M1167.4 413.8 L1174.7 412.0 L1179.3 415.6 L1177.5 420.2 L1171.1 421.1Z" fill="#108870"/>
<path d="M1171.1 423.3 L1176.5 423.3 L1176.9 428.1 L1173.8 428.8Z" fill="#ff3000"/>
<path d="M1175.6 469.6 L1180.2 470.5 L1182.0 476.0 L1178.4 475.7Z" fill="#e20000"/>
<path d="M1247.9 455.0 L1253.4 455.0 L1253.4 460.5 L1247.9 460.5Z" fill="#ff3000"/>
<path d="M876.1 458.5 L898.1 456.6 L920.1 454.8 L934.7 458.5 L931.1 465.8 L912.8 469.5 L890.8 471.3 L878.0 467.6Z" fill="#18a050"/>
<path d="M768.2 440.2 L784.6 440.2 L788.3 453.0 L781.0 464.0 L768.2 465.8Z" fill="#18a050"/>
<path d="M788.3 465.8 L806.6 464.0 L813.9 471.3 L802.9 476.8 L790.1 473.1Z" fill="#18a050"/>
<path d="M815.8 533.5 L832.2 532.6 L850.5 533.5 L868.8 529.8 L887.1 527.1 L896.3 528.0 L876.1 532.6 L854.2 537.2 L832.2 537.2 L815.8 539.0Z" fill="#50b438"/>
<path d="M912.8 518.9 L927.4 515.2 L931.1 519.8 L923.7 523.4 L914.6 525.3Z" fill="#50b438"/>
<path d="M942.0 495.1 L953.0 492.3 L954.8 496.0 L949.4 502.4 L942.0 505.1 L938.4 500.6Z" fill="#50b438"/>
<path d="M1175.6 469.5 L1181.1 470.4 L1183.0 475.9 L1179.3 476.8Z" fill="#9c0000"/>
<path d="M1185.7 485.0 L1190.3 485.9 L1193.0 491.4 L1188.4 490.5Z" fill="#9c0000"/>
<path d="M1192.1 492.3 L1198.5 493.2 L1199.4 496.9 L1194.8 496.9Z" fill="#e20000"/>
<path d="M1191.2 484.1 L1200.3 485.0 L1201.3 489.2 L1193.0 488.7Z" fill="#108870"/>
<path d="M1249.8 455.7 L1254.3 455.7 L1254.3 460.3 L1249.8 460.3Z" fill="#ff3000"/>
<path d="M1236.9 503.3 L1246.1 504.2 L1246.1 507.9 L1237.9 507.5Z" fill="#ff8000"/>
<path d="M290.4 233.7 L299.5 233.7 L299.5 239.2 L290.4 239.2Z" fill="#50b438"/>
<path d="M299.5 246.5 L317.8 244.6 L321.5 250.1 L308.7 257.5 L299.5 255.6Z" fill="#50b438"/>
<path d="M303.2 248.3 L312.4 247.4 L314.2 252.0 L306.9 254.7Z" fill="#18a050"/>
<path d="M328.8 262.9 L336.1 262.9 L336.1 272.1 L328.8 272.1Z" fill="#18a050"/>
<path d="M344.4 256.5 L351.7 256.5 L351.7 262.0 L344.4 262.0Z" fill="#50b438"/>
<path d="M363.6 257.5 L369.1 257.5 L369.1 262.9 L363.6 262.9Z" fill="#18a050"/>
<path d="M374.6 259.3 L381.9 259.3 L381.9 264.8 L374.6 264.8Z" fill="#18a050"/>
<path d="M374.6 244.6 L381.9 244.6 L381.9 248.3 L374.6 248.3Z" fill="#50b438"/>
<path d="M394.7 246.5 L409.4 246.5 L409.4 255.6 L394.7 255.6Z" fill="#88cc28"/>
<path d="M332.5 288.6 L347.1 288.6 L347.1 295.9 L332.5 295.9Z" fill="#50b438"/>
<path d="M349.0 310.5 L370.9 309.6 L372.8 317.8 L350.8 317.8Z" fill="#50b438"/>
<path d="M440.5 312.4 L451.4 312.4 L453.3 325.2 L442.3 323.3Z" fill="#18a050"/>
<path d="M328.8 241.0 L339.8 239.2 L347.1 248.3 L336.1 252.0Z" fill="#b8e020"/>
<path d="M358.1 272.1 L372.8 270.3 L376.4 281.2 L361.8 283.1Z" fill="#b8e020"/>
<path d="M385.6 277.6 L394.7 275.8 L398.4 284.9 L389.2 286.7Z" fill="#b8e020"/>
<clipPath id="v1"><rect x="480" y="240" width="250" height="110"/></clipPath>
<g clip-path="url(#v1)"><rect x="480" y="240" width="250" height="110" fill="#18a050"/>
<g fill="#108870"><path d="M523.9 238.2 L538.6 251.0 L553.2 256.5 L567.8 259.2 L589.8 259.2 L604.5 260.1 L600.8 267.5 L589.8 272.9 L575.2 273.9 L560.5 271.1 L549.5 267.5 L538.6 262.0 L527.6 252.8 L516.6 238.2Z"/><path d="M478.2 342.5 L494.6 343.4 L509.3 348.0 L516.6 351.6 L478.2 351.6Z"/></g>
<g fill="#2868a8"><path d="M553.2 257.4 L567.8 260.1 L586.1 260.1 L595.3 262.0 L593.5 269.3 L578.8 270.2 L564.2 267.5 L555.0 262.9Z"/></g>
<g fill="#50b438"><path d="M503.8 238.2 L512.9 247.3 L522.1 256.5 L531.2 265.6 L540.4 272.9 L553.2 276.6 L567.8 278.4 L580.7 276.6 L593.5 272.9 L602.6 267.5 L608.1 261.0 L615.4 258.3 L624.6 262.0 L635.6 268.4 L650.2 271.5 L664.8 274.2 L674.0 277.0 L681.3 282.5 L688.6 288.0 L688.6 292.2 L696.0 297.8 L706.9 301.5 L721.6 307.9 L732.6 311.7 L732.6 351.6 L542.2 351.6 L536.7 346.1 L527.6 341.6 L514.8 337.0 L498.3 334.3 L478.2 333.3 L478.2 238.2Z"/></g>
<g fill="#88cc28"><path d="M491.0 238.2 L502.0 247.3 L512.9 256.5 L522.1 265.6 L531.2 274.8 L542.2 280.3 L556.9 283.9 L571.5 283.9 L582.5 280.3 L591.6 276.6 L600.8 271.1 L606.3 263.8 L611.8 261.0 L622.8 263.4 L635.6 269.6 L650.2 272.8 L664.8 275.5 L674.0 278.4 L680.4 283.9 L686.8 292.2 L695.0 298.9 L706.9 302.8 L721.6 309.2 L732.6 312.8 L732.6 351.6 L556.9 351.6 L553.2 348.0 L544.1 342.5 L531.2 337.9 L516.6 334.3 L498.3 331.5 L478.2 330.6 L478.2 238.2Z"/></g>
<g fill="#b8e020"><path d="M478.2 245.5 L494.6 251.0 L505.6 258.3 L516.6 267.5 L525.8 276.6 L536.7 283.9 L549.5 289.4 L562.4 291.2 L571.5 291.2 L582.5 287.6 L589.8 282.1 L599.0 276.6 L606.3 269.3 L611.8 264.7 L622.8 265.6 L635.6 271.1 L650.2 274.2 L664.8 277.0 L673.1 280.3 L679.5 285.8 L685.0 293.1 L694.1 300.0 L706.9 304.1 L721.6 310.5 L732.6 313.9 L732.6 351.6 L564.2 351.6 L560.5 346.1 L549.5 339.7 L534.9 335.2 L516.6 331.5 L498.3 329.3 L478.2 327.8Z"/></g>
<g fill="#f4f410"><path d="M478.2 256.5 L491.0 258.3 L502.0 263.8 L512.9 271.1 L522.1 280.3 L533.1 287.6 L545.9 294.0 L560.5 298.6 L571.5 303.1 L578.8 307.7 L582.5 293.1 L589.8 287.6 L599.0 282.1 L608.1 272.9 L611.8 269.3 L622.8 267.8 L637.4 272.6 L652.0 275.5 L664.8 278.3 L674.9 283.9 L682.2 292.2 L692.3 299.5 L705.1 305.2 L717.9 311.0 L732.6 315.0 L732.6 351.6 L571.5 351.6 L564.2 343.4 L553.2 337.9 L538.6 334.3 L523.9 330.6 L509.3 327.8 L494.6 326.9 L478.2 326.0Z"/></g>
<g fill="#ffc000"><path d="M478.2 263.8 L491.0 265.6 L502.0 271.1 L512.9 276.6 L522.1 285.8 L534.9 293.1 L549.5 298.6 L564.2 303.1 L578.8 309.5 L589.8 313.2 L599.0 316.9 L608.1 320.5 L619.1 326.0 L626.4 333.3 L631.9 339.7 L641.1 339.7 L644.7 335.2 L644.7 326.0 L637.4 318.7 L630.1 309.5 L626.4 300.4 L624.6 291.2 L615.4 282.1 L611.8 272.0 L622.8 269.6 L637.4 274.2 L652.0 277.0 L664.8 279.7 L675.8 286.1 L683.1 293.4 L692.3 300.8 L705.1 306.3 L717.9 311.7 L732.6 316.0 L732.6 351.6 L586.1 351.6 L575.2 344.3 L564.2 338.8 L553.2 333.3 L538.6 329.7 L523.9 326.9 L509.3 324.2 L494.6 323.3 L478.2 322.4Z"/><path d="M478.2 247.3 L487.3 250.1 L494.6 258.3 L502.0 267.5 L491.0 265.6 L478.2 264.7Z"/></g>
<g fill="#ff8000"><path d="M648.4 296.7 L659.4 296.7 L659.4 299.5 L648.4 299.5Z"/><path d="M644.7 308.6 L655.7 309.5 L661.2 313.2 L653.9 316.0 L645.6 313.2Z"/><path d="M662.1 315.0 L674.0 314.1 L670.3 321.4 L664.8 320.5Z"/><path d="M716.1 326.0 L732.6 327.8 L732.6 342.5 L719.8 342.5 L715.2 335.2Z"/><path d="M670.3 333.3 L676.7 333.3 L676.7 338.8 L670.3 338.8Z"/></g>
<path d="M571.5 291.2 L582.5 293.1 L597.1 298.6 L604.5 307.7 L593.5 311.4 L578.8 307.7 L571.5 300.4Z" fill="#b8e020"/>
<path d="M608.1 318.7 L619.1 319.6 L619.1 323.3 L608.1 323.3Z" fill="#b8e020"/>
<path d="M547.7 323.3 L556.9 323.3 L556.9 327.8 L547.7 327.8Z" fill="#f4f410"/>
<path d="M498.3 288.5 L507.5 288.5 L507.5 291.2 L498.3 291.2Z" fill="#f4f410"/>
<path d="M615.4 273.9 L626.4 273.9 L626.4 280.3 L617.3 281.2Z" fill="#f4f410"/>
<path d="M679.5 335.2 L683.1 335.2 L683.1 338.8 L679.5 338.8Z" fill="#50b438"/>
</g>
<clipPath id="v2"><rect x="540" y="330" width="250" height="110"/></clipPath>
<g clip-path="url(#v2)"><rect x="540" y="330" width="250" height="110" fill="#18a050"/>
<g fill="#108870"><path d="M538.2 390.4 L551.0 392.2 L565.6 399.5 L576.6 410.5 L582.1 425.2 L583.9 441.6 L538.2 441.6Z"/></g>
<g fill="#2868a8"><path d="M558.3 403.2 L571.1 408.7 L576.6 421.5 L578.4 441.6 L547.3 441.6 L560.1 425.2Z"/></g>
<g fill="#4048e0"><path d="M551.0 421.5 L565.6 419.7 L567.5 441.6 L547.3 441.6Z"/></g>
<g fill="#50b438"><path d="M538.2 328.2 L792.6 328.2 L792.6 441.6 L638.8 441.6 L627.8 432.5 L616.9 425.2 L605.9 417.8 L594.9 410.5 L587.6 399.5 L576.6 390.4 L562.0 383.1 L551.0 372.1 L538.2 361.1Z"/></g>
<g fill="#88cc28"><path d="M538.2 328.2 L792.6 328.2 L792.6 417.8 L777.9 421.5 L759.6 428.8 L741.3 430.7 L723.0 432.5 L704.7 436.1 L690.1 432.5 L675.4 427.0 L660.8 421.5 L646.1 416.0 L635.2 406.9 L627.8 395.9 L616.9 384.9 L602.2 379.4 L587.6 375.8 L572.9 370.3 L562.0 359.3 L551.0 348.3 L538.2 341.0Z"/></g>
<g fill="#b8e020"><path d="M538.2 328.2 L792.6 328.2 L792.6 410.5 L785.2 412.4 L770.6 416.0 L756.0 419.7 L741.3 419.7 L726.7 421.5 L712.0 425.2 L697.4 421.5 L682.8 416.0 L668.1 410.5 L653.5 403.2 L638.8 392.2 L627.8 381.2 L613.2 372.1 L594.9 366.6 L580.3 359.3 L565.6 352.0 L551.0 342.8 L538.2 337.3Z"/></g>
<g fill="#f4f410"><path d="M538.2 328.2 L792.6 328.2 L792.6 405.0 L777.9 406.9 L765.1 410.5 L756.0 412.4 L741.3 410.5 L726.7 412.4 L715.7 416.0 L701.1 410.5 L686.4 403.2 L671.8 397.7 L657.1 392.2 L642.5 384.9 L631.5 373.9 L616.9 366.6 L600.4 361.1 L583.9 353.8 L569.3 346.5 L554.6 337.3 L538.2 333.7Z"/></g>
<g fill="#ffc000"><path d="M562.0 328.2 L576.6 337.3 L591.2 341.0 L605.9 344.6 L620.5 352.0 L635.2 361.1 L649.8 368.4 L668.1 375.8 L686.4 383.1 L704.7 388.6 L723.0 390.4 L741.3 392.2 L756.0 399.5 L763.3 406.9 L770.6 403.2 L781.6 399.5 L792.6 397.7 L792.6 328.2Z"/></g>
<g fill="#ff8000"><path d="M715.7 328.2 L721.2 339.2 L730.3 346.5 L741.3 350.1 L752.3 353.8 L766.9 357.5 L781.6 359.3 L792.6 357.5 L792.6 328.2Z"/><path d="M739.5 361.1 L750.5 361.1 L763.3 368.4 L756.0 373.0 L745.0 371.2 L739.5 365.7Z"/><path d="M715.7 358.4 L722.1 359.3 L722.1 363.9 L716.6 362.9Z"/><path d="M787.1 368.4 L792.6 368.4 L792.6 373.9 L787.1 373.9Z"/><path d="M670.9 333.7 L676.3 333.7 L676.3 338.2 L670.9 338.2Z"/></g>
<path d="M620.5 328.2 L646.1 328.2 L644.3 335.5 L631.5 338.2 L624.2 333.7Z" fill="#f4f410"/>
<path d="M635.2 347.4 L644.3 347.4 L644.3 350.1 L635.2 350.1Z" fill="#f4f410"/>
<path d="M567.5 381.2 L585.8 382.2 L585.8 390.4 L569.3 389.5Z" fill="#18a050"/>
<path d="M593.1 395.9 L604.1 395.9 L604.1 400.5 L593.1 400.5Z" fill="#18a050"/>
<path d="M609.5 375.8 L620.5 375.8 L620.5 383.1 L609.5 383.1Z" fill="#50b438"/>
<path d="M679.1 405.0 L702.9 405.0 L702.9 410.5 L679.1 410.5Z" fill="#50b438"/>
<path d="M653.5 397.7 L668.1 397.7 L668.1 403.2 L653.5 403.2Z" fill="#50b438"/>
<path d="M723.0 406.9 L734.0 406.9 L734.0 414.2 L723.0 414.2Z" fill="#50b438"/>
<path d="M713.9 391.3 L726.7 391.3 L726.7 395.0 L713.9 395.0Z" fill="#50b438"/>
<path d="M766.9 401.4 L783.4 401.4 L783.4 406.9 L766.9 406.9Z" fill="#50b438"/>
<path d="M701.1 425.2 L715.7 425.2 L715.7 429.7 L701.1 429.7Z" fill="#50b438"/>
<path d="M629.7 399.5 L642.5 399.5 L642.5 406.9 L629.7 406.9Z" fill="#50b438"/>
<path d="M675.4 361.1 L681.8 361.1 L681.8 365.7 L675.4 365.7Z" fill="#88cc28"/>
<path d="M677.3 334.6 L683.7 334.6 L683.7 339.2 L677.3 339.2Z" fill="#88cc28"/>
<path d="M754.1 359.3 L760.5 359.3 L760.5 363.9 L754.1 363.9Z" fill="#88cc28"/>
<path d="M777.9 376.7 L788.0 376.7 L788.0 382.2 L777.9 382.2Z" fill="#88cc28"/>
<path d="M691.9 383.1 L699.2 383.1 L699.2 386.7 L691.9 386.7Z" fill="#88cc28"/>
</g>
<clipPath id="v3"><rect x="1150" y="380" width="110" height="90"/></clipPath>
<g clip-path="url(#v3)"><rect x="1150" y="380" width="110" height="90" fill="#18a050"/>
<g fill="#50b438"><path d="M1148.5 378.5 L1262.3 378.5 L1262.3 471.3 L1148.5 471.3Z"/></g>
<g fill="#88cc28"><path d="M1188.9 378.5 L1187.4 390.5 L1183.7 395.0 L1180.7 399.5 L1179.9 405.4 L1179.2 411.4 L1179.9 417.4 L1179.2 422.7 L1177.7 429.4 L1176.2 439.9 L1176.9 447.4 L1176.2 457.8 L1176.9 471.3 L1262.3 471.3 L1262.3 378.5Z"/></g>
<g fill="#b8e020"><path d="M1189.7 378.5 L1188.2 390.5 L1184.7 395.0 L1181.9 399.5 L1181.1 405.4 L1180.5 411.4 L1181.3 417.4 L1180.4 422.7 L1178.9 429.4 L1177.4 439.9 L1178.1 447.4 L1177.4 457.8 L1178.1 471.3 L1262.3 471.3 L1262.3 378.5Z"/></g>
<g fill="#f4f410"><path d="M1190.4 378.5 L1188.9 389.7 L1185.9 395.0 L1183.2 399.5 L1182.5 405.4 L1181.9 411.4 L1182.6 417.4 L1181.7 422.7 L1180.1 429.4 L1178.7 439.9 L1179.5 447.4 L1178.7 457.8 L1179.5 471.3 L1262.3 471.3 L1262.3 378.5Z"/></g>
<g fill="#ffc000"><path d="M1191.6 378.5 L1190.1 389.0 L1187.4 395.0 L1185.6 399.5 L1185.2 405.4 L1184.7 411.4 L1185.3 417.4 L1184.4 423.4 L1183.2 429.4 L1182.2 439.9 L1183.2 447.4 L1182.9 457.8 L1184.1 471.3 L1262.3 471.3 L1262.3 378.5Z"/></g>
<g fill="#ff8000"><path d="M1192.7 378.5 L1191.9 387.5 L1190.4 395.0 L1189.2 401.0 L1189.2 409.9 L1189.2 417.4 L1187.7 424.9 L1186.7 432.4 L1186.7 439.9 L1188.2 447.4 L1188.2 457.8 L1189.2 471.3 L1262.3 471.3 L1262.3 378.5Z"/></g>
<g fill="#ff3000"><path d="M1193.4 378.5 L1194.9 383.0 L1199.4 389.0 L1206.9 395.0 L1212.9 402.5 L1215.9 409.9 L1220.4 418.9 L1223.4 427.9 L1223.4 435.4 L1215.9 438.4 L1206.9 439.1 L1197.9 439.9 L1193.4 444.4 L1192.7 450.4 L1193.4 457.8 L1194.9 463.8 L1197.9 471.3 L1262.3 471.3 L1262.3 396.5 L1253.3 396.5 L1245.8 395.0 L1236.8 392.0 L1230.8 386.0 L1227.8 380.0 L1226.3 378.5Z"/></g>
<g fill="#e20000"><path d="M1262.3 430.9 L1253.3 432.4 L1245.8 435.4 L1236.8 439.9 L1227.8 444.4 L1218.9 447.4 L1209.9 448.9 L1203.9 451.9 L1200.9 457.8 L1200.9 463.8 L1202.4 471.3 L1262.3 471.3Z"/></g>
<g fill="#9c0000"><path d="M1262.3 438.4 L1253.3 439.9 L1245.8 442.9 L1236.8 447.4 L1227.8 451.9 L1220.4 454.9 L1214.4 457.8 L1211.4 463.8 L1211.4 471.3 L1262.3 471.3Z"/></g>
<path d="M1165.0 415.2 L1172.5 409.9 L1177.7 412.2 L1179.2 418.2 L1176.9 422.7 L1168.0 422.7 L1164.2 419.7Z" fill="#18a050"/>
<path d="M1168.7 415.9 L1174.7 415.2 L1176.9 418.2 L1174.0 421.2 L1169.5 420.4Z" fill="#108870"/>
<path d="M1172.5 424.2 L1177.7 424.5 L1177.7 427.9 L1173.2 427.6Z" fill="#e20000"/>
<path d="M1202.4 409.2 L1204.6 409.2 L1204.6 412.2 L1202.4 412.2Z" fill="#ff8000"/>
<path d="M1248.8 455.6 L1253.3 455.6 L1253.3 460.1 L1248.8 460.1Z" fill="#ff3000"/>
<path d="M1185.2 389.0 L1188.9 387.5 L1189.7 395.0 L1186.7 396.5Z" fill="#ff3000"/>
</g>
<clipPath id="v4"><rect x="1150" y="462" width="110" height="90"/></clipPath>
<g clip-path="url(#v4)"><rect x="1150" y="462" width="110" height="90" fill="#18a050"/>
<g fill="#50b438"><path d="M1148.5 460.5 L1262.3 460.5 L1262.3 553.3 L1148.5 553.3Z"/></g>
<g fill="#88cc28"><path d="M1179.9 460.5 L1183.7 469.5 L1189.2 479.2 L1194.9 488.2 L1200.9 497.2 L1208.4 503.9 L1215.9 509.6 L1223.4 515.9 L1229.3 520.7 L1235.3 524.6 L1241.3 528.3 L1250.3 533.1 L1262.3 536.9 L1262.3 460.5Z"/></g>
<g fill="#f4f410"><path d="M1184.7 460.5 L1187.4 468.7 L1191.9 477.7 L1197.2 486.0 L1203.1 494.9 L1210.6 501.7 L1218.1 507.7 L1225.6 513.6 L1230.8 518.1 L1236.8 521.9 L1242.8 525.6 L1251.8 530.1 L1262.3 532.4 L1262.3 460.5Z"/></g>
<g fill="#ffc000"><path d="M1187.4 460.5 L1190.1 468.0 L1194.2 477.0 L1199.4 485.2 L1205.4 493.4 L1212.9 500.2 L1220.4 506.2 L1227.8 511.4 L1232.3 515.9 L1238.3 519.6 L1244.3 523.4 L1253.3 527.9 L1262.3 529.4 L1262.3 460.5Z"/></g>
<g fill="#ff8000"><path d="M1190.4 460.5 L1193.4 468.0 L1197.2 476.2 L1202.4 483.7 L1208.4 491.9 L1215.9 498.7 L1223.4 504.7 L1230.8 509.2 L1233.8 512.9 L1239.8 516.6 L1245.8 521.1 L1254.8 524.9 L1262.3 526.4 L1262.3 460.5Z"/></g>
<g fill="#ff3000"><path d="M1194.9 460.5 L1197.9 468.0 L1201.6 475.5 L1206.9 483.0 L1212.9 490.4 L1220.4 497.2 L1227.8 502.4 L1233.8 506.2 L1235.3 509.9 L1241.3 514.4 L1247.3 518.9 L1254.8 521.9 L1262.3 523.4 L1262.3 460.5Z"/></g>
<g fill="#e20000"><path d="M1200.9 460.5 L1203.1 468.0 L1207.6 475.5 L1212.9 483.0 L1218.9 489.7 L1226.3 495.7 L1233.1 500.2 L1238.3 503.2 L1236.8 507.7 L1242.8 512.1 L1248.8 516.6 L1254.8 519.6 L1262.3 521.1 L1262.3 460.5Z"/></g>
<g fill="#9c0000"><path d="M1209.9 460.5 L1211.4 468.0 L1215.9 475.5 L1220.4 483.0 L1226.3 488.9 L1233.8 494.2 L1239.8 499.4 L1245.8 502.4 L1242.8 506.9 L1247.3 511.4 L1251.8 514.4 L1254.8 517.4 L1262.3 518.9 L1262.3 460.5Z"/></g>
<path d="M1233.8 503.2 L1245.8 501.7 L1246.6 504.7 L1236.1 506.9Z" fill="#ff8000"/>
<path d="M1190.4 484.5 L1199.4 485.2 L1200.1 488.9 L1191.2 488.6Z" fill="#108870"/>
<path d="M1176.2 469.5 L1180.7 470.2 L1182.2 474.7 L1179.2 475.5Z" fill="#9c0000"/>
<path d="M1185.9 484.5 L1189.7 485.2 L1190.4 490.4 L1187.4 489.7Z" fill="#9c0000"/>
<path d="M1193.4 491.9 L1198.7 492.7 L1199.4 496.4 L1195.7 496.1Z" fill="#e20000"/>
<path d="M1224.9 512.9 L1233.8 517.4 L1236.1 520.4 L1227.8 517.4Z" fill="#108870"/>
</g>
</g></g>
<g fill="#fff" filter="url(#rough)"><path d="M131.7 136.9 L139.9 136.0 L150.0 140.2 L149.1 141.8 L139.9 140.5 L132.6 139.6Z"/><path d="M224.1 84.7 L229.6 84.2 L231.8 88.4 L228.7 90.2 L225.0 88.4Z"/><path d="M391.8 151.0 L399.1 150.6 L399.4 156.1 L392.1 156.4Z"/><path d="M359.7 92.0 L365.2 92.0 L365.2 94.0 L359.7 94.0Z"/><path d="M685.7 287.3 L697.6 287.0 L697.6 289.9 L686.0 290.3Z"/><path d="M286.1 298.3 L289.8 294.6 L297.1 294.3 L308.1 296.5 L315.4 296.8 L315.4 298.3 L306.3 298.3 L297.1 296.5 L291.6 297.4 L289.8 301.0 L295.3 303.8 L297.1 305.6 L293.5 305.6 L288.0 302.0Z"/><path d="M340.1 290.1 L344.7 290.1 L344.7 292.8 L340.1 292.8Z"/><path d="M358.4 349.5 L364.8 348.6 L366.7 352.3 L360.3 353.2Z"/><path d="M366.7 356.9 L371.3 356.9 L371.3 359.6 L366.7 359.6Z"/><path d="M753.4 330.9 L760.7 330.3 L775.4 332.2 L790.0 333.1 L790.0 335.8 L775.4 335.8 L760.7 334.0 L753.4 333.1Z"/><path d="M815.6 342.2 L824.8 342.2 L824.8 345.5 L815.6 345.5Z"/><path d="M856.1 351.4 L864.3 350.5 L875.3 352.3 L876.2 356.0 L868.0 357.8 L858.8 356.5Z"/><path d="M931.1 370.6 L938.4 370.6 L938.4 376.1 L931.1 376.1Z"/><path d="M1033.6 372.4 L1039.1 372.4 L1039.1 376.1 L1033.6 376.1Z"/><path d="M1180.2 312.9 L1185.7 311.6 L1192.1 313.4 L1191.2 317.1 L1184.8 318.4 L1180.2 316.5Z"/><path d="M1165.6 329.3 L1172.9 327.5 L1180.2 328.4 L1179.3 331.7 L1171.1 333.6 L1165.6 332.1Z"/><path d="M1106.1 344.0 L1112.5 342.7 L1116.1 344.9 L1114.3 348.2 L1107.9 348.9Z"/><path d="M1034.7 373.3 L1039.3 373.3 L1039.3 376.0 L1034.7 376.0Z"/><path d="M413.7 395.5 L416.5 388.2 L436.6 388.2 L435.7 397.3 L432.0 406.5 L427.4 408.3 L422.9 403.7 L416.5 399.2Z"/><path d="M448.5 415.6 L455.8 412.9 L463.1 415.6 L461.3 420.2 L455.8 422.0 L454.0 425.7 L449.4 424.8Z"/><path d="M747.9 475.7 L752.5 475.7 L752.5 479.3 L747.9 479.3Z"/><path d="M723.2 455.9 L726.3 455.9 L726.3 458.6 L723.2 458.6Z"/><path d="M932.0 399.2 L941.2 399.2 L941.2 402.4 L932.0 402.4Z"/><path d="M998.8 401.0 L1005.6 401.0 L1005.6 405.6 L998.8 405.6Z"/><path d="M894.0 448.9 L900.5 448.9 L900.5 453.1 L894.0 453.1Z"/><path d="M1185.7 479.7 L1193.0 480.0 L1193.0 483.3 L1186.1 483.0Z"/><path d="M1193.0 488.8 L1202.2 489.7 L1202.2 491.8 L1193.4 491.0Z"/><path d="M1072.2 422.9 L1085.0 420.2 L1086.9 422.6 L1079.5 425.7 L1073.1 426.6Z"/><path d="M648.1 502.4 L654.5 502.0 L655.4 506.1 L650.9 507.9 L648.1 506.1Z"/><path d="M683.8 516.1 L692.0 514.8 L695.7 518.9 L693.0 522.9 L685.6 522.5 L682.9 518.9Z"/><path d="M610.6 525.3 L615.2 525.3 L615.2 531.7 L610.6 531.7Z"/><path d="M748.8 475.9 L752.4 475.9 L752.4 478.6 L748.8 478.6Z"/><path d="M749.7 517.0 L772.6 518.0 L772.6 521.1 L757.9 520.7 L749.7 519.2Z"/><path d="M575.8 497.8 L579.5 497.8 L579.5 507.9 L575.8 507.9Z"/><path d="M551.1 510.6 L556.6 510.6 L556.6 513.4 L551.1 513.4Z"/><path d="M819.4 528.0 L834.1 525.3 L848.7 522.5 L861.5 526.2 L865.2 531.7 L850.5 533.5 L832.2 533.5 L819.4 532.0Z"/><path d="M872.5 528.0 L887.1 525.3 L890.8 528.0 L879.8 531.7 L873.4 531.7Z"/><path d="M768.2 519.8 L784.6 518.9 L785.6 522.5 L768.2 524.4Z"/><path d="M789.2 524.4 L795.6 524.4 L795.6 528.9 L789.2 528.9Z"/><path d="M894.5 449.3 L899.9 449.3 L899.9 453.0 L894.5 453.0Z"/><path d="M921.9 500.6 L931.1 498.7 L940.2 502.4 L934.7 506.1 L925.6 505.1Z"/><path d="M898.1 513.4 L909.1 511.5 L912.8 515.2 L901.8 518.9Z"/><path d="M1185.7 479.5 L1193.0 479.5 L1193.0 484.1 L1185.7 484.1Z"/><path d="M1193.0 489.2 L1202.2 489.6 L1202.2 491.8 L1193.4 491.4Z"/><path d="M1249.8 531.3 L1254.3 531.3 L1254.3 534.4 L1249.8 534.4Z"/><path d="M339.8 289.5 L344.4 289.5 L344.4 293.1 L339.8 293.1Z"/><path d="M411.9 377.9 L419.2 376.1 L432.0 376.1 L435.7 372.4 L441.2 375.2 L443.0 379.7 L437.5 382.5 L435.7 391.6 L411.9 391.6Z"/><path d="M404.6 379.7 L410.1 379.7 L410.1 385.2 L404.6 385.2Z"/><path d="M1185.2 480.0 L1192.7 480.0 L1192.7 483.7 L1185.2 483.7Z"/><path d="M1192.7 488.9 L1202.4 489.7 L1202.4 491.6 L1193.4 491.2Z"/><path d="M1251.0 531.6 L1254.0 531.6 L1254.0 534.6 L1251.0 534.6Z"/></g>
<g fill="#fff"><path d="M100.6 94.8 L107.0 94.2 L116.1 94.4 L125.3 96.1 L134.4 100.6 L141.8 107.0 L146.3 112.5 L147.2 116.7 L143.6 121.3 L138.1 125.0 L132.6 127.3 L127.1 126.8 L121.6 129.5 L118.9 132.3 L111.6 130.5 L105.2 128.1 L99.3 126.8 L99.3 95.7Z"/><path d="M213.1 60.9 L224.1 60.0 L236.9 59.1 L251.6 60.9 L261.6 63.7 L258.9 68.2 L251.6 71.0 L242.4 69.2 L235.1 66.4 L224.1 64.6 L215.0 62.7Z"/><path d="M1032.9 346.0 L1035.4 353.3 L1041.1 352.8 L1051.0 350.9 L1062.2 348.4 L1072.0 345.3 L1081.9 342.7 L1091.8 340.9 L1101.9 339.4 L1109.2 339.0 L1115.4 340.9 L1119.3 341.6 L1129.1 337.2 L1139.0 332.8 L1147.8 328.4 L1156.4 324.8 L1161.9 322.9 L1160.8 321.7 L1152.8 320.4 L1141.6 321.1 L1131.5 322.9 L1121.6 325.5 L1114.3 326.6 L1106.8 326.1 L1100.6 324.2 L1095.7 322.4 L1099.3 328.4 L1101.1 331.7 L1099.3 334.7 L1094.4 335.9 L1086.9 335.9 L1079.5 337.2 L1072.0 339.6 L1062.2 342.2 L1052.1 344.0 L1042.2 345.3Z"/><path d="M1079.5 324.8 L1084.5 322.4 L1091.8 322.0 L1096.9 324.8 L1099.9 329.7 L1100.6 332.8 L1096.9 335.4 L1089.4 335.9 L1081.9 335.9 L1079.5 332.3 L1078.3 328.4Z"/><path d="M1173.3 366.7 L1179.2 367.5 L1180.0 370.8 L1176.7 372.1 L1173.3 370.4Z"/></g>
<path d="M241.5 62.7 L251.6 62.2 L257.1 64.6 L253.4 69.2 L246.1 68.2 L242.4 65.5Z" fill="#50b438"/>
<path d="M1090.5 325.7 L1096.0 326.6 L1097.8 332.1 L1093.3 333.9 L1090.5 330.3Z" fill="#108870"/>
<path d="M1072.2 326.6 L1078.1 325.7 L1078.8 335.8 L1073.1 336.7Z" fill="#b8e020"/>
<path d="M1074.1 329.3 L1077.7 328.8 L1078.1 334.8 L1074.4 335.4Z" fill="#50b438"/>
<path d="M512.2 495.0 L520.6 493.7 L528.0 495.0 L529.0 497.7 L526.2 502.4 L523.4 504.8 L522.1 499.6 L516.9 496.8 L512.2 495.9Z" fill="#50b438"/>
<path d="M1183.3 374.2 L1189.2 375.0 L1190.0 377.5 L1185.0 377.9Z" fill="#88cc28"/>
<path d="M110.1 52.4 L112.2 48.1 L119.8 46.4 L125.2 47.7 L128.4 46.4 L128.9 48.5 L123.0 51.4 L118.7 54.6 L114.4 57.2 L111.1 57.8Z" fill="#4048e0"/>
<path d="M146.8 83.8 L148.5 83.8 L148.5 85.1 L146.8 85.1Z" fill="#4048e0"/>
<path d="M160.9 89.2 L162.6 89.2 L162.6 90.5 L160.9 90.5Z" fill="#4048e0"/>
<path d="M165.2 86.6 L166.9 86.6 L166.9 87.9 L165.2 87.9Z" fill="#4048e0"/>
<path d="M176.0 82.7 L177.7 82.7 L177.7 84.0 L176.0 84.0Z" fill="#4048e0"/>
<path d="M184.6 78.4 L186.4 78.4 L186.4 79.7 L184.6 79.7Z" fill="#4048e0"/>
<path d="M193.3 75.1 L195.0 75.1 L195.0 76.4 L193.3 76.4Z" fill="#4048e0"/>
<path d="M154.4 91.4 L156.1 91.4 L156.1 92.6 L154.4 92.6Z" fill="#4048e0"/>
<path d="M172.8 88.1 L174.5 88.1 L174.5 89.4 L172.8 89.4Z" fill="#4048e0"/>
<path d="M200.3 262.4 L204.0 258.8 L210.4 259.7 L208.6 264.3 L212.2 267.0 L209.5 271.6 L214.0 275.2 L211.3 277.1 L206.7 272.5 L204.0 267.9 L201.2 266.1Z" fill="#50b438"/>
<path d="M98.0 96.2 L107.5 93.8 L120.0 93.8 L135.0 97.0 L150.0 100.8 L160.0 102.5 L172.5 102.0 L185.0 99.5 L185.5 94.5 L190.0 93.0 L200.0 94.5 L210.0 94.5 L215.5 93.0 L218.0 87.5 L219.5 81.2 L217.0 75.0 L212.5 71.2 L207.5 70.5 L200.0 72.5 L207.5 69.5 L215.0 66.2 L225.0 68.0 L237.5 73.8 L250.0 80.0 L256.2 78.0 L258.8 85.0 L275.0 85.0 L291.2 86.2 L295.0 93.8 L297.5 95.5 L298.4 95.7 L310.3 92.4 L323.2 88.1 L336.2 83.8 L344.9 81.6 L353.5 81.0 L364.3 82.1 L369.7 85.5 L374.1 90.3 L376.2 94.6 L374.1 96.8 L375.1 101.1 L383.8 106.5 L394.6 114.1 L407.6 122.7 L418.4 129.2 L429.2 134.6 L437.8 136.1 L440.0 142.2 L442.2 146.5 L444.3 147.6 L443.2 151.9 L440.0 155.1 L440.0 159.5 L444.3 161.6 L453.0 161.2 L463.8 160.5 L470.3 164.9 L474.6 169.2 L473.5 173.5 L470.3 175.7 L465.9 172.4 L462.7 174.6 L461.6 177.8 L468.1 182.8 L476.8 184.3 L478.2 180.5 L486.3 184.0 L492.1 192.1 L494.5 202.6 L499.1 211.9 L508.4 220.1 L517.8 225.9 L520.1 230.6 L518.9 236.4 L524.8 237.6 L530.6 243.4 L537.6 250.4 L542.2 249.2 L549.2 252.7 L560.9 256.2 L574.8 258.1 L591.2 257.4 L605.1 256.7 L616.8 256.7 L623.8 260.9 L637.8 266.7 L654.1 270.2 L668.0 272.5 L679.7 278.3 L689.0 285.3 L698.3 286.5 L698.3 290.0 L687.8 290.7 L693.7 294.7 L705.3 299.3 L720.0 305.1 L718.5 303.8 L736.0 310.0 L756.0 314.5 L776.0 318.8 L791.0 321.2 L799.8 321.2 L803.0 323.8 L804.8 330.0 L816.0 335.0 L828.5 338.8 L836.0 341.2 L848.5 340.0 L861.0 339.5 L869.8 337.5 L878.5 339.5 L891.0 341.2 L903.5 339.5 L908.5 339.5 L912.2 342.5 L921.0 348.8 L936.0 350.0 L943.5 349.5 L948.5 355.5 L961.0 356.2 L971.0 355.5 L981.0 352.5 L993.5 348.8 L1008.5 343.8 L1021.0 340.0 L1020.0 339.9 L1027.3 337.5 L1038.3 336.2 L1049.3 337.5 L1060.3 336.7 L1067.6 333.8 L1069.4 328.9 L1073.1 325.2 L1080.4 322.1 L1093.2 321.5 L1102.4 318.8 L1115.2 317.9 L1126.2 314.2 L1137.2 310.6 L1148.1 308.2 L1162.8 306.9 L1177.4 305.1 L1188.4 306.4 L1203.1 307.4 L1212.2 306.0 L1217.7 308.2 L1228.7 310.0 L1236.9 312.4 L1239.7 317.0 L1247.0 318.8 L1249.7 325.2 L1256.2 329.8" fill="none" stroke="#000" stroke-width="1.8" stroke-linejoin="round"/>
<path d="M1256.5 537.3 L1249.9 535.0 L1242.5 530.4 L1233.2 523.8 L1223.8 516.4 L1216.4 511.7 L1208.9 508.0 L1201.5 502.4 L1194.0 495.9 L1187.5 490.3 L1185.6 484.7 L1180.1 477.3 L1176.3 469.8 L1173.5 464.2 L1172.6 456.8 L1173.5 447.5 L1172.6 440.0 L1174.0 439.9 L1175.6 434.9 L1174.8 429.0 L1173.1 425.7 L1166.5 423.2 L1161.5 420.7 L1161.5 417.4 L1164.8 414.1 L1169.8 410.7 L1173.1 407.4 L1176.5 404.1 L1180.6 399.9 L1182.3 394.9 L1184.0 390.8 L1183.1 387.4 L1186.5 385.8 L1189.0 383.3 L1189.8 379.1 L1188.1 375.0 L1193.1 371.6 L1192.3 368.3 L1186.5 367.5 L1179.8 366.6 L1174.8 366.6 L1170.6 370.0 L1168.2 375.0 L1166.5 379.1 L1164.0 375.0 L1159.8 375.8 L1155.7 376.6 L1152.3 376.3 L1149.9 379.1 L1144.9 384.1 L1138.2 389.9 L1133.2 396.6 L1128.2 403.2 L1119.9 409.1 L1109.9 412.4 L1098.3 416.6 L1088.3 421.5 L1081.6 425.7 L1076.6 427.4 L1070.0 428.2 L1065.0 431.5 L1060.0 436.5 L1064.1 433.2 L1059.7 437.6 L1050.9 440.9 L1042.1 445.3 L1033.3 450.8 L1024.5 456.2 L1015.7 461.7 L1007.0 467.2 L993.8 471.6 L980.6 476.0 L969.6 480.4 L960.8 484.8 L954.2 489.2 L955.3 494.7 L949.8 500.2 L943.3 504.6 L934.5 507.9 L930.1 512.3 L931.2 518.9 L925.7 522.2 L916.9 524.3 L908.1 525.4 L899.3 526.5 L891.6 528.7 L883.9 530.9 L873.0 534.2 L862.0 537.5 L851.0 539.1 L850.0 539.6 L833.4 539.6 L815.1 539.6 L802.9 534.5 L790.7 535.1 L778.6 535.5 L768.4 532.5 L760.3 531.1 L750.2 533.5 L740.0 531.5 L729.9 532.1 L717.7 532.5 L709.6 532.5 L697.4 533.5 L689.3 529.0 L681.2 533.5 L669.0 537.5 L658.8 540.6 L646.7 544.7 L634.5 546.1 L626.4 547.7 L628.6 549.0 L624.9 546.2 L615.6 546.2 L606.3 544.3 L597.0 545.3 L587.7 540.6 L584.9 535.0 L583.9 527.6 L582.1 522.0 L578.3 522.9 L574.6 525.7 L570.9 523.8 L567.2 526.6 L566.2 522.0 L564.4 517.3 L560.6 516.4 L559.7 523.5 L554.1 523.8 L548.5 520.1 L541.1 518.2 L531.8 518.2 L525.3 521.6 L522.1 519.2 L522.5 515.4 L526.2 510.8 L531.8 506.1 L539.2 502.4 L544.8 501.5 L548.5 499.6 L543.0 498.7 L535.5 495.5 L539.2 495.0 L542.0 491.2 L546.7 484.7 L552.3 478.2 L558.8 471.7 L564.4 467.9 L563.1 460.5 L563.9 459.8 L563.1 453.2 L561.4 448.2 L556.4 446.5 L551.4 444.8 L550.6 439.9 L549.8 434.9 L545.6 430.7 L546.4 426.5 L549.8 422.4 L556.4 419.1 L550.6 418.2 L556.4 416.6 L559.8 413.6 L554.8 411.6 L558.9 410.7 L560.6 407.4 L558.9 401.6 L554.8 398.3 L546.4 397.4 L538.1 396.6 L533.1 392.5 L528.1 386.6 L521.5 384.1 L514.8 382.5 L508.2 384.1 L503.2 387.5 L494.9 389.1 L487.4 393.3 L483.2 399.9 L479.9 404.1 L481.6 408.3 L475.8 409.1 L472.4 412.4 L470.8 417.4 L473.3 420.7 L479.1 421.6 L479.9 423.2 L474.1 424.9 L472.4 429.0 L469.1 432.4 L464.9 431.5 L460.8 432.4 L456.6 429.0 L452.5 431.5 L452.5 439.9 L453.3 449.8 L455.0 459.8 L453.5 449.3 L455.4 458.6 L459.1 464.2 L458.2 467.9 L461.9 472.6 L465.6 477.3 L466.6 483.8 L461.9 485.6 L454.5 488.8 L451.7 482.8 L447.9 478.2 L442.4 474.5 L437.7 469.8 L432.1 465.1 L427.5 463.3 L427.5 457.7 L425.6 453.0 L422.8 447.5 L420.0 442.8 L421.3 447.4 L419.7 442.7 L412.7 437.6 L405.7 433.4 L399.9 428.8 L394.0 425.3 L389.4 420.6 L385.9 417.1 L380.1 411.3 L375.4 405.5 L370.8 399.7 L364.9 395.0 L360.3 395.0 L355.6 391.5 L354.5 384.5 L357.9 379.9 L362.6 381.0 L368.4 388.0 L373.1 390.3 L375.4 384.5 L378.9 381.0 L383.6 377.5 L384.7 371.0 L383.8 369.9 L382.4 365.9 L380.5 359.8 L381.2 356.6 L378.4 359.8 L371.9 360.5 L363.8 359.1 L358.4 355.2 L355.2 350.5 L355.9 345.2 L353.3 343.3 L353.8 338.6 L358.4 341.9 L363.8 342.8 L371.9 345.6 L376.6 346.6 L369.1 342.6 L362.6 338.4 L355.9 334.5 L349.1 331.2 L341.2 329.8 L330.0 328.6 L331.4 328.4 L322.7 325.1 L315.1 321.9 L309.7 317.6 L303.2 313.2 L301.1 308.9 L295.7 306.8 L292.4 310.0 L285.9 311.1 L281.6 307.8 L275.1 308.9 L273.0 304.6 L268.6 301.4 L266.5 295.9 L263.2 293.8 L255.7 294.9 L253.5 290.5 L243.8 288.4 L251.4 286.6 L260.0 287.3 L266.5 286.2 L263.2 283.0 L255.7 280.2 L244.9 279.3 L235.1 280.2 L227.6 277.6 L220.0 274.3 L214.6 276.5 L208.1 274.3 L205.9 270.0 L200.5 265.7 L201.6 260.3 L205.9 259.2 L203.8 253.8 L196.2 250.5 L194.1 246.2 L186.5 243.0 L180.0 238.6 L204.1 257.6 L199.8 253.2 L197.6 247.8 L191.1 245.7 L183.6 242.4 L178.2 238.1 L179.2 234.9 L177.1 229.5 L170.6 225.1 L165.2 220.8 L166.3 217.6 L164.1 213.2 L158.7 207.8 L151.1 203.5 L146.8 197.0 L147.9 192.7 L142.5 188.4 L136.0 186.2 L133.8 180.8 L127.4 176.5 L120.9 168.9 L115.5 160.3 L111.1 151.6 L110.1 146.2 L104.6 145.1 L99.2 143.0 L96.0 140.8" fill="none" stroke="#000" stroke-width="1.8" stroke-linejoin="round"/>
<path d="M99.7 99.3 L103.3 103.9 L107.0 110.3 L111.6 116.7 L115.2 122.2 L118.9 128.6 L120.7 131.4 L114.3 131.7 L107.0 129.2 L99.7 127.7" fill="none" stroke="#000" stroke-width="1.5" stroke-linejoin="round"/>
<path d="M157.3 97.5 L165.5 99.3 L171.0 101.7" fill="none" stroke="#000" stroke-width="1.5" stroke-linejoin="round"/>
<path d="M213.1 60.9 L224.1 61.5 L235.1 60.0 L242.4 61.5 L251.6 60.9 L261.6 63.7 L258.9 68.2 L251.6 71.0 L242.4 69.2 L235.1 66.4 L224.1 64.6 L215.0 62.7Z" fill="none" stroke="#000" stroke-width="1.5" stroke-linejoin="round"/>
<path d="M1032.9 346.0 L1035.4 353.3 L1041.1 352.8 L1051.0 350.9 L1062.2 348.4 L1072.0 345.3 L1081.9 342.7 L1091.8 340.9 L1101.9 339.4 L1109.2 339.0 L1115.4 340.9 L1119.3 341.6 L1129.1 337.2 L1139.0 332.8 L1147.8 328.4 L1156.4 324.8 L1161.9 322.9 L1160.8 321.7 L1152.8 320.4 L1141.6 321.1 L1131.5 322.9 L1121.6 325.5 L1114.3 326.6 L1106.8 326.1 L1100.6 324.2 L1095.7 322.4 L1099.3 328.4 L1101.1 331.7 L1099.3 334.7 L1094.4 335.9 L1086.9 335.9 L1079.5 337.2 L1072.0 339.6 L1062.2 342.2 L1052.1 344.0 L1042.2 345.3Z" fill="none" stroke="#000" stroke-width="1.5" stroke-linejoin="round"/>
<path d="M372.5 412.9 L378.9 414.7 L388.1 418.4 L389.0 421.1 L382.6 420.2 L375.3 416.5Z" fill="none" stroke="#000" stroke-width="1.5" stroke-linejoin="round"/>
<path d="M401.8 430.3 L406.4 433.0 L405.5 435.8 L401.8 433.0Z" fill="none" stroke="#000" stroke-width="1.5" stroke-linejoin="round"/>
<path d="M882.6 520.7 L889.0 522.5 L896.3 528.0" fill="none" stroke="#000" stroke-width="1.5" stroke-linejoin="round"/>
<path d="M890.8 518.0 L898.1 521.6 L905.4 527.1" fill="none" stroke="#000" stroke-width="1.5" stroke-linejoin="round"/>
<path d="M898.1 514.3 L903.6 518.0 L909.1 522.5" fill="none" stroke="#000" stroke-width="1.5" stroke-linejoin="round"/>
<path d="M914.6 506.1 L923.7 508.8 L932.9 512.5" fill="none" stroke="#000" stroke-width="1.5" stroke-linejoin="round"/>
<path d="M921.9 504.2 L932.9 506.1 L943.9 507.9" fill="none" stroke="#000" stroke-width="1.5" stroke-linejoin="round"/>
<path d="M512.2 495.0 L520.6 493.7 L528.0 495.0 L529.0 497.7 L526.2 502.4 L523.4 504.8 L522.1 499.6 L516.9 496.8 L512.2 495.9Z" fill="none" stroke="#000" stroke-width="1.5" stroke-linejoin="round"/>
<path d="M1167.5 375.0 L1169.2 372.5 L1173.3 370.8 L1176.7 372.5 L1179.2 375.0 L1176.7 377.5 L1173.3 379.2 L1170.0 381.7 L1169.2 385.0 L1173.3 386.7" fill="none" stroke="#000" stroke-width="2.2" stroke-linejoin="round" stroke-linecap="round"/>
<path d="M1180.0 366.7 L1183.3 369.2 L1188.3 369.6 L1192.5 370.0" fill="none" stroke="#000" stroke-width="2.2" stroke-linejoin="round" stroke-linecap="round"/>
<path d="M1180.8 375.0 L1183.3 377.5 L1181.7 380.8 L1183.3 383.3 L1188.3 383.8 L1190.0 381.7 L1188.3 379.2 L1185.0 378.8" fill="none" stroke="#000" stroke-width="2.2" stroke-linejoin="round" stroke-linecap="round"/>
<path d="M1176.7 390.0 L1180.0 391.7 L1177.5 393.3 L1180.8 395.8 L1178.3 398.3" fill="none" stroke="#000" stroke-width="2.2" stroke-linejoin="round" stroke-linecap="round"/>
<path d="M1173.3 379.2 L1176.7 381.7 L1175.8 385.0 L1179.2 386.7" fill="none" stroke="#000" stroke-width="2.2" stroke-linejoin="round" stroke-linecap="round"/>
<path d="M200.3 262.4 L204.0 258.8 L210.4 259.7 L208.6 264.3 L212.2 267.0 L209.5 271.6 L214.0 275.2 L211.3 277.1 L206.7 272.5 L204.0 267.9 L201.2 266.1 L200.3 262.4" fill="none" stroke="#000" stroke-width="1.6" stroke-linejoin="round" stroke-linecap="round"/>
</g>
<g stroke="#000" fill="none" stroke-linecap="butt">
<path d="M98.4 550.8V22.9H1126.5" stroke-width="2.2"/>
<path d="M1126.5 22.9H1255V549.8" stroke-width="1.6"/>
<path d="M97.4 549.8H1126.5" stroke-width="2.2"/><path d="M1126.5 549.8H1255.8" stroke-width="1.8"/>
<path d="M226.5 8.5V22.9M226.5 549.8V564.8 M355.1 8.5V22.9M355.1 549.8V564.8 M483.6 8.5V22.9M483.6 549.8V564.8 M612.2 8.5V22.9M612.2 549.8V564.8 M740.8 8.5V22.9M740.8 549.8V564.8 M869.4 8.5V22.9M869.4 549.8V564.8 M997.9 8.5V22.9M997.9 549.8V564.8 M1126.5 8.5V22.9M1126.5 549.8V564.8 M84.5 96.8H98.4M1255 96.8H1269 M84.5 171.2H98.4M1255 171.2H1269 M84.5 245.6H98.4M1255 245.6H1269 M84.5 320.1H98.4M1255 320.1H1269 M84.5 394.5H98.4M1255 394.5H1269 M84.5 468.9H98.4M1255 468.9H1269 M84.5 543.3H98.4M1255 543.3H1269 " stroke-width="2"/>
</g>
<text x="17" y="103.4" font-size="19">30.0°N</text>
<text x="17" y="252.24" font-size="19">28.0°N</text>
<text x="17" y="401.08" font-size="19">26.0°N</text>
<text x="17" y="549.92" font-size="19">24.0°N</text>
<text x="197.9" y="587.6" font-size="19">49.0°E</text>
<text x="455.04" y="587.6" font-size="19">51.0°E</text>
<text x="712.18" y="587.6" font-size="19">53.0°E</text>
<text x="969.33" y="587.6" font-size="19">55.0°E</text>
<g stroke="#000" stroke-width="1.5" stroke-linejoin="miter">
<path d="M1274.7 57.9L1291.5 22.8L1308.3 57.9Z" fill="#9c0000"/>
<rect x="1274.7" y="57.90" width="33.6" height="35.17" fill="#e20000"/>
<rect x="1274.7" y="93.07" width="33.6" height="35.17" fill="#ff3000"/>
<rect x="1274.7" y="128.24" width="33.6" height="35.17" fill="#ff8000"/>
<rect x="1274.7" y="163.41" width="33.6" height="35.17" fill="#ffc000"/>
<rect x="1274.7" y="198.58" width="33.6" height="35.17" fill="#f4f410"/>
<rect x="1274.7" y="233.75" width="33.6" height="35.17" fill="#b8e020"/>
<rect x="1274.7" y="268.92" width="33.6" height="35.17" fill="#88cc28"/>
<rect x="1274.7" y="304.09" width="33.6" height="35.17" fill="#50b438"/>
<rect x="1274.7" y="339.26" width="33.6" height="35.17" fill="#18a050"/>
<rect x="1274.7" y="374.43" width="33.6" height="35.17" fill="#108870"/>
<rect x="1274.7" y="409.60" width="33.6" height="35.17" fill="#2868a8"/>
<rect x="1274.7" y="444.77" width="33.6" height="35.17" fill="#4048e0"/>
<rect x="1274.7" y="479.94" width="33.6" height="35.17" fill="#7030ff"/>
<path d="M1274.7 515.11L1291.5 549.3L1308.3 515.11Z" fill="#c000ff"/>
</g>
<text x="1319.7" y="64.2" font-size="19">200</text>
<text x="1319.7" y="99.37" font-size="19">150</text>
<text x="1319.7" y="134.54" font-size="19">100</text>
<text x="1330.4" y="169.71" font-size="19">80</text>
<text x="1330.4" y="204.88" font-size="19">60</text>
<text x="1330.4" y="240.05" font-size="19">50</text>
<text x="1330.4" y="275.22" font-size="19">40</text>
<text x="1330.4" y="310.39" font-size="19">30</text>
<text x="1330.4" y="345.56" font-size="19">20</text>
<text x="1330.4" y="380.73" font-size="19">10</text>
<text x="1341.1" y="415.9" font-size="19">5</text>
<text x="1341.1" y="451.07" font-size="19">2</text>
<text x="1341.1" y="486.24" font-size="19">1</text>
<text x="1341.1" y="521.41" font-size="19">0</text>
</svg></body></html>
